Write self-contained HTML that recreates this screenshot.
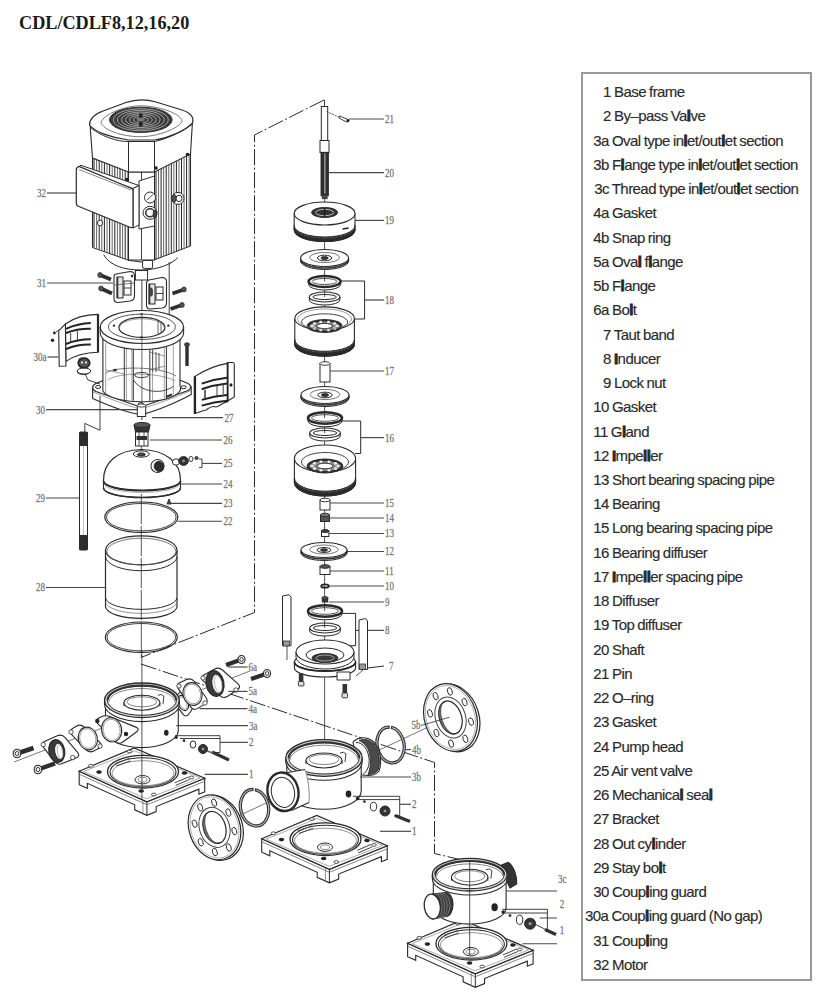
<!DOCTYPE html>
<html><head><meta charset="utf-8">
<style>
html,body{margin:0;padding:0;background:#fff;}
body{width:834px;height:1000px;position:relative;overflow:hidden;}
#title{position:absolute;left:19px;top:9.5px;font:bold 18.2px "Liberation Serif",serif;color:#1a1a1a;white-space:nowrap;line-height:26px;}
#legend{position:absolute;left:580.5px;top:71.5px;width:231px;height:909.5px;border:2px solid #999;box-sizing:border-box;}
.li{position:absolute;font:15px "Liberation Sans",sans-serif;color:#2a2a2a;white-space:nowrap;letter-spacing:-0.56px;word-spacing:-0.5px;line-height:18px;-webkit-text-stroke:0.15px #2a2a2a;}
.li b{font-weight:bold;-webkit-text-stroke:0.8px #222;}
svg{position:absolute;left:0;top:0;}
.lb{font:11.5px "Liberation Serif",serif;fill:#606060;stroke:#909090;stroke-width:0.25px;}
</style></head>
<body>
<div id="title">CDL/CDLF8,12,16,20</div>
<svg id="dg" width="834" height="1000" viewBox="0 0 834 1000">
<polyline points="324,100 254.5,135 254.5,612.5 141,657.5" stroke="#2a2a2a" stroke-width="1.0" fill="none" stroke-dasharray="16 2.5 2 2.5"/>
<polyline points="141,664 434.5,762.5 434.5,853.5 470,862" stroke="#2a2a2a" stroke-width="1.0" fill="none" stroke-dasharray="16 2.5 2 2.5"/>
<line x1="94.0" y1="158" x2="94.0" y2="247.60963172804531" stroke="#222" stroke-width="1.0"/>
<line x1="96.6" y1="158" x2="96.6" y2="248.55977337110482" stroke="#666" stroke-width="1.0"/>
<line x1="99.2" y1="158" x2="99.2" y2="249.5099150141643" stroke="#222" stroke-width="1.0"/>
<line x1="101.8" y1="158" x2="101.8" y2="250.4600566572238" stroke="#666" stroke-width="1.0"/>
<line x1="104.4" y1="158" x2="104.4" y2="251.41019830028327" stroke="#222" stroke-width="1.0"/>
<line x1="107.0" y1="158" x2="107.0" y2="252.36033994334278" stroke="#666" stroke-width="1.0"/>
<line x1="109.6" y1="158" x2="109.6" y2="253.31048158640226" stroke="#222" stroke-width="1.0"/>
<line x1="112.2" y1="158" x2="112.2" y2="254.26062322946174" stroke="#666" stroke-width="1.0"/>
<line x1="114.8" y1="158" x2="114.8" y2="255.21076487252122" stroke="#222" stroke-width="1.0"/>
<line x1="117.4" y1="158" x2="117.4" y2="256.16090651558073" stroke="#666" stroke-width="1.0"/>
<line x1="120.0" y1="158" x2="120.0" y2="257.1110481586402" stroke="#222" stroke-width="1.0"/>
<line x1="122.6" y1="158" x2="122.6" y2="258.0611898016997" stroke="#666" stroke-width="1.0"/>
<line x1="125.2" y1="158" x2="125.2" y2="259.0113314447592" stroke="#222" stroke-width="1.0"/>
<line x1="127.80000000000001" y1="158" x2="127.80000000000001" y2="259.96147308781866" stroke="#666" stroke-width="1.0"/>
<line x1="156.0" y1="153" x2="156.0" y2="259.2248554913295" stroke="#222" stroke-width="1.0"/>
<line x1="158.55" y1="153" x2="158.55" y2="258.2151734104046" stroke="#666" stroke-width="1.0"/>
<line x1="161.1" y1="153" x2="161.1" y2="257.20549132947974" stroke="#222" stroke-width="1.0"/>
<line x1="163.65" y1="153" x2="163.65" y2="256.1958092485549" stroke="#666" stroke-width="1.0"/>
<line x1="166.2" y1="153" x2="166.2" y2="255.18612716763005" stroke="#222" stroke-width="1.0"/>
<line x1="168.75" y1="153" x2="168.75" y2="254.1764450867052" stroke="#666" stroke-width="1.0"/>
<line x1="171.3" y1="153" x2="171.3" y2="253.16676300578035" stroke="#222" stroke-width="1.0"/>
<line x1="173.85" y1="153" x2="173.85" y2="252.15708092485548" stroke="#666" stroke-width="1.0"/>
<line x1="176.4" y1="153" x2="176.4" y2="251.14739884393063" stroke="#222" stroke-width="1.0"/>
<line x1="178.95" y1="153" x2="178.95" y2="250.13771676300578" stroke="#666" stroke-width="1.0"/>
<line x1="181.5" y1="153" x2="181.5" y2="249.12803468208094" stroke="#222" stroke-width="1.0"/>
<line x1="184.05" y1="153" x2="184.05" y2="248.11835260115606" stroke="#666" stroke-width="1.0"/>
<line x1="186.6" y1="153" x2="186.6" y2="247.10867052023121" stroke="#222" stroke-width="1.0"/>
<line x1="189.15" y1="153" x2="189.15" y2="246.09898843930637" stroke="#666" stroke-width="1.0"/>
<line x1="92.5" y1="158" x2="92.5" y2="247.5" stroke="#2a2a2a" stroke-width="1.1"/>
<line x1="190.5" y1="152" x2="190.5" y2="246" stroke="#2a2a2a" stroke-width="1.1"/>
<polyline points="92.5,247.5 129,260.4 141,262 154.8,259.7 190.5,246" stroke="#2a2a2a" stroke-width="1.0" fill="none"/>
<rect x="128.5" y="172" width="26" height="88" rx="0" stroke="#2a2a2a" stroke-width="1.0" fill="#fff"/>
<line x1="141.5" y1="172" x2="141.5" y2="260" stroke="#2a2a2a" stroke-width="0.9"/>
<path d="M103.7,254.7 C110,266 125,270 140.4,270 C158,270 172,264 177.8,257.6" stroke="#2a2a2a" stroke-width="1.0" fill="none" />
<rect x="142.6" y="260.4" width="10" height="8" rx="1.5" stroke="#2a2a2a" stroke-width="1.0" fill="#fff"/>
<rect x="135.4" y="270.5" width="12.2" height="9.5" rx="0" stroke="#2a2a2a" stroke-width="1.0" fill="#fff"/>
<path d="M90,124 L92.5,158 L128.5,172 L154.5,172 L190.5,154 L192.5,121 Z" stroke="#2a2a2a" stroke-width="1.1" fill="#fff" />
<line x1="128.5" y1="141" x2="128.5" y2="172" stroke="#2a2a2a" stroke-width="1.0"/>
<line x1="154.5" y1="141" x2="154.5" y2="172" stroke="#2a2a2a" stroke-width="1.0"/>
<path d="M90,127 C100,136 118,142 128.5,141.5 L154.5,141.5 C168,139 184,130 192.5,124" stroke="#2a2a2a" stroke-width="1.0" fill="none" />
<path d="M89.5,125 C89.5,118 95,114 103,111 L126,102.5 C136,99 146,99 156,102 L182,110 C191,113 194,118 192.5,123 C186,130 170,138 154.5,140 L128.5,140 C112,138 95,132 89.5,125 Z" stroke="#2a2a2a" stroke-width="1.2" fill="#fff" />
<path d="M100.9,122.3 C104,114 125,105.8 140.4,105.8 C158,105.8 180,113 182.2,120.9 C180,128 158,136.7 140.4,136.7 C122,136.7 103,130 100.9,122.3 Z" stroke="#555" stroke-width="0.8" fill="none" />
<ellipse cx="140.8" cy="119.8" rx="31.3" ry="12.6" stroke="#2a2a2a" stroke-width="1.0" fill="#3a3a3a"/>
<ellipse cx="140.8" cy="119.8" rx="27.5" ry="11" stroke="#bdbdbd" stroke-width="0.8" fill="none"/>
<ellipse cx="140.8" cy="119.8" rx="23.5" ry="9.4" stroke="#bdbdbd" stroke-width="0.8" fill="none"/>
<ellipse cx="140.8" cy="119.8" rx="19.5" ry="7.8" stroke="#bdbdbd" stroke-width="0.8" fill="none"/>
<ellipse cx="140.8" cy="119.8" rx="15.5" ry="6.2" stroke="#bdbdbd" stroke-width="0.8" fill="none"/>
<ellipse cx="140.8" cy="119.8" rx="11.5" ry="4.6" stroke="#bdbdbd" stroke-width="0.8" fill="none"/>
<ellipse cx="140.8" cy="119.8" rx="7.5" ry="3" stroke="#bdbdbd" stroke-width="0.8" fill="none"/>
<rect x="139" y="113.5" width="3.6" height="13" rx="0" stroke="none" stroke-width="0" fill="#222"/>
<ellipse cx="140.8" cy="119.5" rx="4" ry="2" stroke="none" stroke-width="0" fill="#777"/>
<ellipse cx="187.5" cy="154.5" rx="1.8" ry="1.8" stroke="none" stroke-width="0" fill="#222"/>
<ellipse cx="156" cy="168" rx="1.8" ry="1.8" stroke="none" stroke-width="0" fill="#222"/>
<ellipse cx="127" cy="179.5" rx="1.8" ry="1.8" stroke="none" stroke-width="0" fill="#222"/>
<path d="M139,181 L154.5,176 L154.5,226 L139,229 Z" stroke="#2a2a2a" stroke-width="1.0" fill="#fff" />
<path d="M77,168 L81,165.3 L139,185.5 L133,188.5 Z" stroke="#2a2a2a" stroke-width="1.0" fill="#fff" />
<path d="M133,188.5 L139,185.5 L139,225 L133,228 Z" stroke="#2a2a2a" stroke-width="1.0" fill="#fff" />
<path d="M79,166.5 C77,167 76.3,168 76.3,170 L76.3,203 C76.3,205 77,206 79,206.5 L130.5,227.5 C132.5,228 133,227.5 133,226 L133,191 C133,189.5 132.5,188.5 130.5,188 Z" stroke="#2a2a2a" stroke-width="1.2" fill="#fff" />
<line x1="79" y1="169.5" x2="131" y2="190" stroke="#666" stroke-width="0.8"/>
<ellipse cx="150" cy="197.5" rx="5.5" ry="5.5" stroke="#2a2a2a" stroke-width="1.0" fill="#fff"/>
<line x1="147" y1="200" x2="153" y2="194.5" stroke="#2a2a2a" stroke-width="0.8"/>
<ellipse cx="150" cy="212.8" rx="7" ry="6.5" stroke="#2a2a2a" stroke-width="1.0" fill="#fff"/>
<ellipse cx="150" cy="212.8" rx="4.3" ry="4" stroke="#333" stroke-width="1.6" fill="none"/>
<ellipse cx="155" cy="214" rx="1.8" ry="4" stroke="#2a2a2a" stroke-width="1.0" fill="#444"/>
<ellipse cx="178" cy="198.4" rx="6" ry="6" stroke="#2a2a2a" stroke-width="1.0" fill="#fff"/>
<ellipse cx="179" cy="198.4" rx="3" ry="3.2" stroke="#2a2a2a" stroke-width="1.0" fill="none"/>
<ellipse cx="174" cy="198.4" rx="2" ry="4" stroke="#2a2a2a" stroke-width="0.9" fill="#555"/>
<ellipse cx="100" cy="223" rx="2.5" ry="3" stroke="#2a2a2a" stroke-width="1.0" fill="#fff"/>
<line x1="47" y1="193" x2="76" y2="193" stroke="#4a4a4a" stroke-width="1.2"/>
<text x="46" y="197" class="lb" text-anchor="end" transform="translate(46 197) scale(0.78 1) translate(-46 -197)">32</text>
<line x1="141.9" y1="280" x2="141.9" y2="420" stroke="#2a2a2a" stroke-width="0.9"/>
<line x1="169.2" y1="262" x2="169.2" y2="322" stroke="#2a2a2a" stroke-width="0.9"/>
<path d="M116,274 L130,271.5 C133,271.5 134.5,273 134.5,276 L134.5,296 C134.5,299 133,300.5 130,301 L118,302.5 C115.5,302.5 114,301 114,298.5 L114,277 C114,275.5 114.8,274.2 116,274 Z" stroke="#2a2a2a" stroke-width="1.1" fill="#fff" />
<rect x="117" y="277" width="6" height="21" rx="0" stroke="#2a2a2a" stroke-width="1.0" fill="#e8e8e8"/>
<line x1="117.5" y1="277" x2="117.5" y2="298" stroke="#333" stroke-width="1.6"/>
<rect x="124" y="281" width="7" height="14" rx="0" stroke="#2a2a2a" stroke-width="1.0" fill="#fff"/>
<line x1="124" y1="288" x2="131" y2="288" stroke="#2a2a2a" stroke-width="0.9"/>
<line x1="114.5" y1="285" x2="134" y2="283" stroke="#555" stroke-width="0.8"/>
<ellipse cx="132" cy="276" rx="1.2" ry="1.2" stroke="none" stroke-width="0" fill="#222"/>
<path d="M149,280 L162,277.5 C165,277.5 166.5,279 166.5,282 L166.5,303 C166.5,306 165,307.5 162,308 L150,309 C147.5,309 146.5,307.5 146.5,305 L146.5,283 C146.5,281.5 147.5,280.3 149,280 Z" stroke="#2a2a2a" stroke-width="1.1" fill="#fff" />
<rect x="149" y="284" width="6" height="20" rx="0" stroke="#2a2a2a" stroke-width="1.0" fill="#e8e8e8"/>
<line x1="149.5" y1="284" x2="149.5" y2="304" stroke="#333" stroke-width="1.6"/>
<rect x="156" y="287" width="7" height="13" rx="0" stroke="#2a2a2a" stroke-width="1.0" fill="#fff"/>
<line x1="156" y1="293.5" x2="163" y2="293.5" stroke="#2a2a2a" stroke-width="0.9"/>
<ellipse cx="151" cy="292" rx="2" ry="4.5" stroke="none" stroke-width="0" fill="#444"/>
<line x1="100" y1="275" x2="111" y2="279.5" stroke="#2e2e2e" stroke-width="3.8"/>
<ellipse cx="100" cy="275" rx="2.28" ry="2.4699999999999998" stroke="#2a2a2a" stroke-width="0.8" fill="#555"/>
<line x1="101" y1="288.5" x2="112" y2="293.5" stroke="#2e2e2e" stroke-width="3.8"/>
<ellipse cx="101" cy="288.5" rx="2.28" ry="2.4699999999999998" stroke="#2a2a2a" stroke-width="0.8" fill="#555"/>
<line x1="184" y1="289.5" x2="172.5" y2="293.5" stroke="#2e2e2e" stroke-width="3.8"/>
<ellipse cx="184" cy="289.5" rx="2.28" ry="2.4699999999999998" stroke="#2a2a2a" stroke-width="0.8" fill="#555"/>
<line x1="182" y1="305" x2="170.5" y2="309" stroke="#2e2e2e" stroke-width="3.8"/>
<ellipse cx="182" cy="305" rx="2.28" ry="2.4699999999999998" stroke="#2a2a2a" stroke-width="0.8" fill="#555"/>
<line x1="47" y1="283" x2="113" y2="283" stroke="#4a4a4a" stroke-width="1.2"/>
<text x="46" y="287" class="lb" text-anchor="end" transform="translate(46 287) scale(0.78 1) translate(-46 -287)">31</text>
<path d="M92.6,388 L92.6,398.5 C105,404 128,413 140.2,414.5 C152,413 178,402 191.2,394.6 L191.2,386.4" stroke="#2a2a2a" stroke-width="1.1" fill="#fff" />
<path d="M96,383.5 C91.5,385.5 91.5,389.5 96,391.5 L136,405.5 C139,406.5 142,406.5 145,405.5 L187,391 C192,389 192,385 187,383 L150,368 L133,368 Z" stroke="#2a2a2a" stroke-width="1.2" fill="#fff" />
<path d="M93,392 C108,398 128,406 140.2,409 C152,406 176,397 191,390.5" stroke="#777" stroke-width="0.7" fill="none" />
<ellipse cx="98.1" cy="387" rx="2.6" ry="1.5" stroke="#2a2a2a" stroke-width="1.0" fill="#fff"/>
<ellipse cx="140.8" cy="404.2" rx="2.6" ry="1.5" stroke="#2a2a2a" stroke-width="1.0" fill="#fff"/>
<ellipse cx="183.6" cy="387.2" rx="2.6" ry="1.5" stroke="#2a2a2a" stroke-width="1.0" fill="#fff"/>
<path d="M102.9,338 L102.9,391 A38.5,13 0 0 0 180,386 L180,338 Z" stroke="#2a2a2a" stroke-width="1.1" fill="#fff" />
<path d="M106,373 C115,366 160,366 176,376" stroke="#555" stroke-width="0.8" fill="none" />
<path d="M133.5,380 C140,391 160,396 174,386" stroke="#444" stroke-width="1.0" fill="none" />
<path d="M108,380 C118,372 160,372 175,381" stroke="#777" stroke-width="0.7" fill="none" />
<ellipse cx="141.5" cy="375" rx="7" ry="2.6" stroke="#2a2a2a" stroke-width="0.9" fill="none"/>
<line x1="105.7" y1="343" x2="105.7" y2="394.1182520563948" stroke="#777" stroke-width="0.7"/>
<line x1="124.3" y1="343" x2="124.3" y2="399.85544498834867" stroke="#333" stroke-width="1.0"/>
<line x1="126.4" y1="343" x2="126.4" y2="400.13077751513794" stroke="#777" stroke-width="0.7"/>
<line x1="131.9" y1="343" x2="131.9" y2="400.65986177495864" stroke="#777" stroke-width="0.7"/>
<line x1="133.3" y1="343" x2="133.3" y2="400.7537938250951" stroke="#333" stroke-width="1.0"/>
<line x1="149.8" y1="343" x2="149.8" y2="400.73498952025574" stroke="#333" stroke-width="1.0"/>
<line x1="152.6" y1="343" x2="152.6" y2="400.5242576935383" stroke="#777" stroke-width="0.7"/>
<line x1="164.3" y1="343" x2="164.3" y2="398.8425686544218" stroke="#777" stroke-width="0.7"/>
<line x1="166.4" y1="343" x2="166.4" y2="398.3653805554042" stroke="#333" stroke-width="1.0"/>
<line x1="173.3" y1="343" x2="173.3" y2="396.1587170675691" stroke="#777" stroke-width="0.7"/>
<path d="M149.8,352 L164.3,356 M150,370 L165,366" stroke="#666" stroke-width="0.7" fill="none" />
<path d="M152.6,350 L152.6,372 M156,352 L156,372 M159,353 L159,370" stroke="#555" stroke-width="1.0" fill="none" />
<line x1="106" y1="370" x2="124" y2="374" stroke="#777" stroke-width="0.7"/>
<ellipse cx="115" cy="370" rx="2" ry="1.2" stroke="none" stroke-width="0" fill="#333"/>
<path d="M166,397 L172,394.5" stroke="#333" stroke-width="2.4" fill="none" />
<path d="M100.2,327 L100.2,333 A41.7,16.5 0 0 0 183.6,333 L183.6,327" stroke="#2a2a2a" stroke-width="1.1" fill="#fff" />
<ellipse cx="141.9" cy="327" rx="41.7" ry="16.5" stroke="#2a2a2a" stroke-width="1.2" fill="#fff"/>
<ellipse cx="141.9" cy="326.8" rx="33.5" ry="12.7" stroke="#444" stroke-width="0.9" fill="none"/>
<ellipse cx="141.9" cy="327.4" rx="23" ry="10" stroke="#2a2a2a" stroke-width="1.2" fill="#fff"/>
<path d="M119.5,328 A22.4,9.2 0 0 1 164.3,328" stroke="#777" stroke-width="0.7" fill="none" />
<path d="M158,321 L158,334 M161,322 L161,333" stroke="#666" stroke-width="1.0" fill="none" />
<ellipse cx="114" cy="325.7" rx="1.3" ry="1.1" stroke="none" stroke-width="0" fill="#333"/>
<ellipse cx="141.5" cy="337.4" rx="1.3" ry="1.1" stroke="none" stroke-width="0" fill="#333"/>
<ellipse cx="168.4" cy="325.7" rx="1.3" ry="1.1" stroke="none" stroke-width="0" fill="#333"/>
<ellipse cx="141.5" cy="314" rx="1.3" ry="1.1" stroke="none" stroke-width="0" fill="#333"/>
<line x1="141.9" y1="314" x2="141.9" y2="406" stroke="#444" stroke-width="0.8"/>
<line x1="187" y1="345" x2="187" y2="366" stroke="#2e2e2e" stroke-width="3.4"/>
<ellipse cx="187" cy="344.5" rx="2.6" ry="1.8" stroke="#2a2a2a" stroke-width="0.8" fill="#444"/>
<ellipse cx="83.5" cy="365" rx="5" ry="3" stroke="#2a2a2a" stroke-width="1.0" fill="#fff"/>
<rect x="79" y="358" width="9" height="7" rx="2" stroke="#2a2a2a" stroke-width="1.0" fill="#fff"/>
<ellipse cx="83.5" cy="372" rx="6" ry="2.5" stroke="#2a2a2a" stroke-width="1.0" fill="#fff"/>
<path d="M65.4,324 C75,317 88,314.5 98,314.4 L98,352.3 C88,352.5 75,355 65.9,361.4 Z" stroke="#2a2a2a" stroke-width="1.1" fill="#fff" />
<path d="M58.7,330.7 L65.4,324 L65.9,366 L59.2,366.2 Z" stroke="#2a2a2a" stroke-width="1.1" fill="#fff" />
<line x1="98" y1="314.4" x2="98" y2="352.3" stroke="#2a2a2a" stroke-width="2.2"/>
<path d="M66,328.8 Q78,323.4 90.8,323" stroke="#222" stroke-width="2.0" fill="none" />
<path d="M66,333 Q78,328.4 90.8,328.8" stroke="#222" stroke-width="2.0" fill="none" />
<path d="M66,344 Q78,339.15 90.8,339.3" stroke="#222" stroke-width="2.0" fill="none" />
<path d="M66,349 Q78,344.3 90.8,344.6" stroke="#222" stroke-width="2.0" fill="none" />
<line x1="70.7" y1="333" x2="70.7" y2="343" stroke="#2a2a2a" stroke-width="0.9"/>
<line x1="77.4" y1="331" x2="77.4" y2="341" stroke="#2a2a2a" stroke-width="0.9"/>
<ellipse cx="54.4" cy="333" rx="1.4" ry="1.4" stroke="none" stroke-width="0" fill="#222"/>
<ellipse cx="52.5" cy="340.3" rx="1.7" ry="1.7" stroke="none" stroke-width="0" fill="#222"/>
<line x1="56" y1="332" x2="59" y2="330" stroke="#2a2a2a" stroke-width="0.8"/>
<ellipse cx="84" cy="371" rx="6.8" ry="3" stroke="#2a2a2a" stroke-width="1.0" fill="#fff"/>
<ellipse cx="84" cy="363" rx="5.8" ry="4.8" stroke="#222" stroke-width="1.6" fill="#555"/>
<ellipse cx="82" cy="362.5" rx="1.4" ry="1.7" stroke="#2a2a2a" stroke-width="0.6" fill="#eee"/>
<ellipse cx="86" cy="362.5" rx="1.4" ry="1.7" stroke="#2a2a2a" stroke-width="0.6" fill="#eee"/>
<path d="M85,374 L88,380 L100,384" stroke="#2a2a2a" stroke-width="0.9" fill="none" />
<line x1="47.5" y1="357" x2="58.5" y2="357" stroke="#4a4a4a" stroke-width="1.2"/>
<text x="46.5" y="361" class="lb" text-anchor="end" transform="translate(46.5 361) scale(0.78 1) translate(-46.5 -361)">30a</text>
<path d="M194.9,376.4 C205,370 217,365 227.6,363.4 L227.6,401.8 C222,403 220,406 216,407 C212,405 209,408 206,410 C202,411 198,413 194.9,413.3 Z" stroke="#2a2a2a" stroke-width="1.1" fill="#fff" />
<path d="M227.6,362.5 L233,362.5 C234,362.5 234.3,363.5 234.3,364.5 L234.3,397 L227.6,401 Z" stroke="#2a2a2a" stroke-width="1.1" fill="#fff" />
<line x1="194.9" y1="376.4" x2="194.9" y2="413.8" stroke="#222" stroke-width="2.4"/>
<line x1="227.6" y1="362.5" x2="227.6" y2="401.8" stroke="#222" stroke-width="1.8"/>
<path d="M201.7,383.6 Q214,379.20000000000005 227,377.8" stroke="#222" stroke-width="2.0" fill="none" />
<path d="M201.7,389.3 Q214,384.95000000000005 227,383.6" stroke="#222" stroke-width="2.0" fill="none" />
<path d="M201.7,399.9 Q214,395.95 227,395" stroke="#222" stroke-width="2.0" fill="none" />
<path d="M201.7,405.6 Q214,401.70000000000005 227,400.8" stroke="#222" stroke-width="2.0" fill="none" />
<line x1="217" y1="386" x2="217" y2="396" stroke="#2a2a2a" stroke-width="0.9"/>
<line x1="223.2" y1="384" x2="223.2" y2="394" stroke="#2a2a2a" stroke-width="0.9"/>
<line x1="205" y1="390" x2="205" y2="400" stroke="#2a2a2a" stroke-width="1.4"/>
<ellipse cx="231" cy="385" rx="1.5" ry="1.8" stroke="none" stroke-width="0" fill="#222"/>
<line x1="46" y1="409.6" x2="138.6" y2="409.6" stroke="#444" stroke-width="1.1"/>
<text x="45" y="413.6" class="lb" text-anchor="end" transform="translate(45 413.6) scale(0.78 1) translate(-45 -413.6)">30</text>
<line x1="152" y1="417.6" x2="223" y2="417.6" stroke="#444" stroke-width="1.1"/>
<text x="224.5" y="421.6" class="lb" text-anchor="start" transform="translate(224.5 421.6) scale(0.78 1) translate(-224.5 -421.6)">27</text>
<polyline points="100,396 100,430.3 84.8,423.4 84.8,431.7" stroke="#2a2a2a" stroke-width="0.9" fill="none"/>
<rect x="137.3" y="405.5" width="8.4" height="11" rx="0" stroke="#2a2a2a" stroke-width="1.0" fill="#fff"/>
<ellipse cx="141.5" cy="405.5" rx="4.2" ry="1.6" stroke="#2a2a2a" stroke-width="0.9" fill="#fff"/>
<path d="M134,425 L150,425 L148.5,432 L135.5,432 Z" stroke="#2a2a2a" stroke-width="1.0" fill="#333" />
<ellipse cx="142" cy="425" rx="8" ry="2.5" stroke="#2a2a2a" stroke-width="1.0" fill="#555"/>
<rect x="135.5" y="432" width="12.5" height="14" rx="0" stroke="#2a2a2a" stroke-width="1.0" fill="#fff"/>
<rect x="136.5" y="436" width="10.5" height="4" rx="0" stroke="none" stroke-width="0" fill="#333"/>
<line x1="139" y1="432" x2="139" y2="446" stroke="#2a2a2a" stroke-width="0.8"/>
<line x1="144" y1="432" x2="144" y2="446" stroke="#2a2a2a" stroke-width="0.8"/>
<line x1="150" y1="440" x2="222" y2="440" stroke="#444" stroke-width="1.1"/>
<text x="223.5" y="444" class="lb" text-anchor="start" transform="translate(223.5 444) scale(0.78 1) translate(-223.5 -444)">26</text>
<rect x="79.5" y="432" width="8" height="118" rx="1" stroke="#2a2a2a" stroke-width="1.0" fill="#fff"/>
<rect x="79.5" y="432" width="8" height="14" rx="0" stroke="none" stroke-width="0" fill="#2e2e2e"/>
<rect x="79.5" y="535" width="8" height="15" rx="0" stroke="none" stroke-width="0" fill="#2e2e2e"/>
<line x1="83.5" y1="446" x2="83.5" y2="535" stroke="#999" stroke-width="0.6"/>
<line x1="46" y1="498" x2="79" y2="498" stroke="#444" stroke-width="1.1"/>
<text x="45" y="502" class="lb" text-anchor="end" transform="translate(45 502) scale(0.78 1) translate(-45 -502)">29</text>
<path d="M103.5,481 L103.5,488 A38.3,9.5 0 0 0 180.5,488 L180.5,481 Z" stroke="#2a2a2a" stroke-width="1.1" fill="#fff" />
<path d="M103.5,481 C103,462 118,450 141.3,449.5 C165,450 181,462 180.5,481 A38.5,9.5 0 0 1 103.5,481 Z" stroke="#2a2a2a" stroke-width="1.2" fill="#fff" />
<path d="M103.5,481 A38.5,9.5 0 0 0 180.5,481" stroke="#2a2a2a" stroke-width="2.0" fill="none" />
<path d="M103.5,488 A38.5,9.5 0 0 0 180.5,488" stroke="#2a2a2a" stroke-width="1.5" fill="none" />
<path d="M104,484.5 A38.5,9.5 0 0 0 180,484.5" stroke="#888" stroke-width="0.7" fill="none" />
<ellipse cx="141.3" cy="454" rx="8" ry="3.2" stroke="#2a2a2a" stroke-width="1.0" fill="#fff"/>
<ellipse cx="141.3" cy="454.5" rx="4" ry="1.6" stroke="#2a2a2a" stroke-width="1.0" fill="#444"/>
<ellipse cx="157.5" cy="466" rx="6.5" ry="6.5" stroke="#2a2a2a" stroke-width="1.0" fill="#fff" transform="rotate(-20 157.5 466)"/>
<ellipse cx="159" cy="466.5" rx="4.8" ry="5.2" stroke="#2a2a2a" stroke-width="0.8" fill="#2c2c2c" transform="rotate(-20 159 466.5)"/>
<ellipse cx="176" cy="462" rx="3.6" ry="3.2" stroke="#2a2a2a" stroke-width="1.0" fill="#fff"/>
<ellipse cx="183.5" cy="461" rx="4.8" ry="4.4" stroke="#2a2a2a" stroke-width="1.0" fill="#333"/>
<ellipse cx="183.5" cy="461" rx="2" ry="2" stroke="#2a2a2a" stroke-width="0.8" fill="#888"/>
<ellipse cx="191" cy="459" rx="2" ry="2.6" stroke="#2a2a2a" stroke-width="0.9" fill="#fff"/>
<ellipse cx="196.5" cy="458" rx="1.6" ry="1.6" stroke="#2a2a2a" stroke-width="0.9" fill="#555"/>
<polyline points="199,459 202,459 202,467.6 199,467.6" stroke="#2a2a2a" stroke-width="0.9" fill="none"/>
<line x1="202" y1="463.4" x2="222" y2="463.4" stroke="#444" stroke-width="1.1"/>
<text x="223.5" y="467.4" class="lb" text-anchor="start" transform="translate(223.5 467.4) scale(0.78 1) translate(-223.5 -467.4)">25</text>
<line x1="180" y1="484" x2="222" y2="484" stroke="#444" stroke-width="1.1"/>
<text x="223.5" y="488" class="lb" text-anchor="start" transform="translate(223.5 488) scale(0.78 1) translate(-223.5 -488)">24</text>
<path d="M169,499 L171,504 L167,504 Z" stroke="#2a2a2a" stroke-width="0.9" fill="#444" />
<line x1="171" y1="503.4" x2="222" y2="503.4" stroke="#444" stroke-width="1.1"/>
<text x="223.5" y="507.4" class="lb" text-anchor="start" transform="translate(223.5 507.4) scale(0.78 1) translate(-223.5 -507.4)">23</text>
<ellipse cx="141.3" cy="517.2" rx="36.5" ry="15.2" stroke="#2a2a2a" stroke-width="1.2" fill="none"/>
<ellipse cx="141.3" cy="517.2" rx="34.8" ry="13.7" stroke="#2a2a2a" stroke-width="0.9" fill="none"/>
<line x1="177.5" y1="521.3" x2="222" y2="521.3" stroke="#444" stroke-width="1.1"/>
<text x="223.5" y="525.3" class="lb" text-anchor="start" transform="translate(223.5 525.3) scale(0.78 1) translate(-223.5 -525.3)">22</text>
<path d="M105.5,550 L105.5,607 A35.8,12 0 0 0 177,607 L177,550" stroke="#2a2a2a" stroke-width="1.2" fill="#fff" />
<path d="M105.5,598 A35.8,12 0 0 0 177,598" stroke="#2a2a2a" stroke-width="1.0" fill="none" />
<path d="M105.5,602 A35.8,12 0 0 0 177,602" stroke="#777" stroke-width="0.8" fill="none" />
<ellipse cx="141.3" cy="550.3" rx="35.8" ry="14.5" stroke="#2a2a2a" stroke-width="1.2" fill="#fff"/>
<ellipse cx="141.3" cy="551.5" rx="34.5" ry="13.3" stroke="#555" stroke-width="0.8" fill="none"/>
<path d="M105.5,557 A35.8,14.5 0 0 0 177,557" stroke="#2a2a2a" stroke-width="1.0" fill="none" />
<line x1="46" y1="587.5" x2="105.5" y2="587.5" stroke="#444" stroke-width="1.1"/>
<text x="45" y="591.5" class="lb" text-anchor="end" transform="translate(45 591.5) scale(0.78 1) translate(-45 -591.5)">28</text>
<ellipse cx="141.3" cy="637.2" rx="36" ry="15.2" stroke="#2a2a2a" stroke-width="1.2" fill="none"/>
<ellipse cx="141.3" cy="637.2" rx="34.3" ry="13.7" stroke="#2a2a2a" stroke-width="0.9" fill="none"/>
<line x1="141.3" y1="446" x2="141.3" y2="451" stroke="#2a2a2a" stroke-width="0.8"/>
<line x1="141.3" y1="494" x2="141.3" y2="658" stroke="#2a2a2a" stroke-width="0.8" stroke-dasharray="30 2"/>
<line x1="324.6" y1="196" x2="324.6" y2="745" stroke="#2a2a2a" stroke-width="0.8"/>
<rect x="321.3" y="106.5" width="6.4" height="34" rx="0" stroke="#2a2a2a" stroke-width="1.0" fill="#fff"/>
<line x1="324.5" y1="100" x2="324.5" y2="106.5" stroke="#2a2a2a" stroke-width="0.9"/>
<rect x="320" y="140.5" width="9" height="12" rx="0" stroke="#2a2a2a" stroke-width="1.0" fill="#fff"/>
<rect x="321" y="152.3" width="7.4" height="43.5" rx="0" stroke="#2a2a2a" stroke-width="0.9" fill="#2e2e2e"/>
<line x1="324.9" y1="153.5" x2="324.9" y2="193.5" stroke="#bbb" stroke-width="1.1"/>
<rect x="321.8" y="195.3" width="5.8" height="3.8" rx="0" stroke="none" stroke-width="0" fill="#333"/>
<line x1="321.8" y1="196.2" x2="327.6" y2="196.2" stroke="#888" stroke-width="0.4"/>
<line x1="321.8" y1="197.8" x2="327.6" y2="197.8" stroke="#888" stroke-width="0.4"/>
<path d="M339.5,116 L348,119.5 L348.7,121.5 L346.5,122 L339,118 Z" stroke="#2a2a2a" stroke-width="0.9" fill="#fff" />
<ellipse cx="348" cy="120.6" rx="1.5" ry="1.5" stroke="none" stroke-width="0" fill="#222"/>
<line x1="326.6" y1="111.6" x2="340" y2="117.5" stroke="#444" stroke-width="0.9" stroke-dasharray="2 1"/>
<line x1="348.7" y1="119" x2="384" y2="119" stroke="#4a4a4a" stroke-width="1.2"/>
<text x="385" y="123" class="lb" text-anchor="start" transform="translate(385 123) scale(0.78 1) translate(-385 -123)">21</text>
<line x1="328.4" y1="172.6" x2="384" y2="172.6" stroke="#4a4a4a" stroke-width="1.2"/>
<text x="385" y="176.6" class="lb" text-anchor="start" transform="translate(385 176.6) scale(0.78 1) translate(-385 -176.6)">20</text>
<path d="M294.20000000000005,213.5 L294.20000000000005,230.0 A30.4,11.5 0 0 0 355.0,230.0 L355.0,213.5" stroke="#2a2a2a" stroke-width="1.1" fill="#fff" />
<path d="M294.20000000000005,225.5 A30.4,11.5 0 0 0 355.0,225.5 L355.0,230.0 A30.4,11.5 0 0 1 294.20000000000005,230.0 Z" stroke="#2a2a2a" stroke-width="1.0" fill="#2a2a2a" />
<path d="M295.20000000000005,227.5 A29.4,10.5 0 0 0 354.0,227.5" stroke="#aaa" stroke-width="0.6" fill="none" stroke-dasharray="1 1.5"/>
<ellipse cx="324.6" cy="213.5" rx="30.4" ry="11.5" stroke="#2a2a2a" stroke-width="1.1" fill="#fff"/>
<ellipse cx="324.6" cy="212.5" rx="13" ry="5" stroke="#2a2a2a" stroke-width="1.0" fill="#333"/>
<ellipse cx="324.6" cy="212.5" rx="9" ry="3.2" stroke="#ddd" stroke-width="0.8" fill="none"/>
<line x1="324.6" y1="208" x2="324.6" y2="217" stroke="#222" stroke-width="1.5"/>
<path d="M342.6,229 l6,-1" stroke="#222" stroke-width="1.3" fill="none" />
<line x1="355" y1="220.4" x2="384" y2="220.4" stroke="#4a4a4a" stroke-width="1.2"/>
<text x="385" y="224.4" class="lb" text-anchor="start" transform="translate(385 224.4) scale(0.78 1) translate(-385 -224.4)">19</text>
<path d="M300.6,258 L300.6,261 A24,8.5 0 0 0 348.6,261 L348.6,258" stroke="#2a2a2a" stroke-width="1.0" fill="#fff" />
<path d="M300.6,259.5 A24,8.5 0 0 0 348.6,259.5" stroke="#333" stroke-width="1.6" fill="none" />
<ellipse cx="324.6" cy="258" rx="24" ry="8.5" stroke="#2a2a2a" stroke-width="1.1" fill="#fff"/>
<ellipse cx="324.6" cy="257.5" rx="14.879999999999999" ry="5.1" stroke="#555" stroke-width="0.8" fill="none"/>
<ellipse cx="324.6" cy="258" rx="7.199999999999999" ry="2.805" stroke="#2a2a2a" stroke-width="1.0" fill="#fff"/>
<ellipse cx="324.6" cy="258" rx="3.5999999999999996" ry="1.53" stroke="#2a2a2a" stroke-width="0.8" fill="#333"/>
<path d="M308.6,281.5 L308.6,284.5 A16,5.5 0 0 0 340.6,284.5 L340.6,281.5" stroke="#2a2a2a" stroke-width="1.0" fill="#fff" />
<ellipse cx="324.6" cy="281.5" rx="16" ry="5.5" stroke="#2a2a2a" stroke-width="2.6" fill="none"/>
<ellipse cx="324.6" cy="281.5" rx="12.5" ry="3.0" stroke="#2a2a2a" stroke-width="0.8" fill="none"/>
<path d="M309.3,297 L309.3,300 A15.3,5 0 0 0 339.90000000000003,300 L339.90000000000003,297" stroke="#2a2a2a" stroke-width="1.0" fill="#fff" />
<ellipse cx="324.6" cy="297" rx="15.3" ry="5" stroke="#2a2a2a" stroke-width="1.1" fill="none"/>
<ellipse cx="324.6" cy="297" rx="11.8" ry="2.5" stroke="#2a2a2a" stroke-width="1.0" fill="none"/>
<polyline points="341,281 364.6,281 364.6,319 354.5,319" stroke="#2a2a2a" stroke-width="1.0" fill="none"/>
<line x1="364.6" y1="300" x2="384" y2="300" stroke="#4a4a4a" stroke-width="1.2"/>
<text x="385" y="304" class="lb" text-anchor="start" transform="translate(385 304) scale(0.78 1) translate(-385 -304)">18</text>
<path d="M294.8,318.5 L294.8,344.5 A29.8,11.6 0 0 0 354.40000000000003,344.5 L354.40000000000003,318.5" stroke="#2a2a2a" stroke-width="1.1" fill="#fff" />
<path d="M294.8,339.7 A29.8,11.6 0 0 0 354.40000000000003,339.7 L354.40000000000003,344.5 A29.8,11.6 0 0 1 294.8,344.5 Z" stroke="#2a2a2a" stroke-width="1.0" fill="#2a2a2a" />
<path d="M295.8,341.7 A28.8,10.6 0 0 0 353.40000000000003,341.7" stroke="#aaa" stroke-width="0.6" fill="none" stroke-dasharray="1 1.5"/>
<ellipse cx="324.6" cy="318.5" rx="29.8" ry="11.6" stroke="#2a2a2a" stroke-width="1.1" fill="#fff"/>
<ellipse cx="324.6" cy="322" rx="23" ry="8.2" stroke="#444" stroke-width="1.0" fill="none"/>
<ellipse cx="324.6" cy="326" rx="16.5" ry="5.8" stroke="#2e2e2e" stroke-width="2.6" fill="#8a8a8a"/>
<ellipse cx="337.1" cy="326.0" rx="1.6" ry="1.3" stroke="none" stroke-width="0" fill="#eee"/>
<ellipse cx="334.71271242968686" cy="328.46869805962837" rx="1.6" ry="1.3" stroke="none" stroke-width="0" fill="#eee"/>
<ellipse cx="328.46271242968686" cy="329.99443736843966" rx="1.6" ry="1.3" stroke="none" stroke-width="0" fill="#eee"/>
<ellipse cx="320.7372875703132" cy="329.99443736843966" rx="1.6" ry="1.3" stroke="none" stroke-width="0" fill="#eee"/>
<ellipse cx="314.4872875703132" cy="328.46869805962837" rx="1.6" ry="1.3" stroke="none" stroke-width="0" fill="#eee"/>
<ellipse cx="312.1" cy="326.0" rx="1.6" ry="1.3" stroke="none" stroke-width="0" fill="#eee"/>
<ellipse cx="314.4872875703132" cy="323.53130194037163" rx="1.6" ry="1.3" stroke="none" stroke-width="0" fill="#eee"/>
<ellipse cx="320.7372875703132" cy="322.00556263156034" rx="1.6" ry="1.3" stroke="none" stroke-width="0" fill="#eee"/>
<ellipse cx="328.46271242968686" cy="322.00556263156034" rx="1.6" ry="1.3" stroke="none" stroke-width="0" fill="#eee"/>
<ellipse cx="334.71271242968686" cy="323.53130194037163" rx="1.6" ry="1.3" stroke="none" stroke-width="0" fill="#eee"/>
<ellipse cx="324.6" cy="326" rx="8" ry="2.6" stroke="#2a2a2a" stroke-width="0.9" fill="#fff"/>
<ellipse cx="324.6" cy="319" rx="27" ry="10" stroke="#777" stroke-width="0.7" fill="none"/>
<rect x="320" y="363.5" width="10" height="18.5" rx="0" stroke="#2a2a2a" stroke-width="1.0" fill="#fff"/>
<ellipse cx="325" cy="363.5" rx="5" ry="1.8" stroke="#2a2a2a" stroke-width="0.9" fill="#fff"/>
<line x1="330" y1="371" x2="384" y2="371" stroke="#4a4a4a" stroke-width="1.2"/>
<text x="385" y="375" class="lb" text-anchor="start" transform="translate(385 375) scale(0.78 1) translate(-385 -375)">17</text>
<path d="M301,395 L301,398 A24,8.5 0 0 0 349,398 L349,395" stroke="#2a2a2a" stroke-width="1.0" fill="#fff" />
<path d="M301,396.5 A24,8.5 0 0 0 349,396.5" stroke="#333" stroke-width="1.6" fill="none" />
<ellipse cx="325" cy="395" rx="24" ry="8.5" stroke="#2a2a2a" stroke-width="1.1" fill="#fff"/>
<ellipse cx="325" cy="394.5" rx="14.879999999999999" ry="5.1" stroke="#555" stroke-width="0.8" fill="none"/>
<ellipse cx="325" cy="395" rx="7.199999999999999" ry="2.805" stroke="#2a2a2a" stroke-width="1.0" fill="#fff"/>
<ellipse cx="325" cy="395" rx="3.5999999999999996" ry="1.53" stroke="#2a2a2a" stroke-width="0.8" fill="#333"/>
<path d="M308,418 L308,421 A17,5.8 0 0 0 342,421 L342,418" stroke="#2a2a2a" stroke-width="1.0" fill="#fff" />
<ellipse cx="325" cy="418" rx="17" ry="5.8" stroke="#2a2a2a" stroke-width="2.6" fill="none"/>
<ellipse cx="325" cy="418" rx="13.5" ry="3.3" stroke="#2a2a2a" stroke-width="0.8" fill="none"/>
<path d="M309.7,433 L309.7,436 A15.3,5 0 0 0 340.3,436 L340.3,433" stroke="#2a2a2a" stroke-width="1.0" fill="#fff" />
<ellipse cx="325" cy="433" rx="15.3" ry="5" stroke="#2a2a2a" stroke-width="1.1" fill="none"/>
<ellipse cx="325" cy="433" rx="11.8" ry="2.5" stroke="#2a2a2a" stroke-width="1.0" fill="none"/>
<polyline points="342,421 360.7,421 360.7,453.5 355,453.5" stroke="#2a2a2a" stroke-width="1.0" fill="none"/>
<line x1="360.7" y1="437.6" x2="384" y2="437.6" stroke="#4a4a4a" stroke-width="1.2"/>
<text x="385" y="441.6" class="lb" text-anchor="start" transform="translate(385 441.6) scale(0.78 1) translate(-385 -441.6)">16</text>
<path d="M294.4,458.5 L294.4,482.5 A30.6,13.5 0 0 0 355.6,482.5 L355.6,458.5" stroke="#2a2a2a" stroke-width="1.1" fill="#fff" />
<path d="M294.4,477.7 A30.6,13.5 0 0 0 355.6,477.7 L355.6,482.5 A30.6,13.5 0 0 1 294.4,482.5 Z" stroke="#2a2a2a" stroke-width="1.0" fill="#2a2a2a" />
<path d="M295.4,479.7 A29.6,12.5 0 0 0 354.6,479.7" stroke="#aaa" stroke-width="0.6" fill="none" stroke-dasharray="1 1.5"/>
<ellipse cx="325" cy="458.5" rx="30.6" ry="13.5" stroke="#2a2a2a" stroke-width="1.1" fill="#fff"/>
<ellipse cx="325" cy="462" rx="23.5" ry="9.5" stroke="#444" stroke-width="1.0" fill="none"/>
<ellipse cx="325" cy="466" rx="17" ry="6.2" stroke="#2e2e2e" stroke-width="2.6" fill="#8a8a8a"/>
<ellipse cx="338.0" cy="466.0" rx="1.6" ry="1.3" stroke="none" stroke-width="0" fill="#eee"/>
<ellipse cx="335.5172209268743" cy="468.6450336353161" rx="1.6" ry="1.3" stroke="none" stroke-width="0" fill="#eee"/>
<ellipse cx="329.0172209268743" cy="470.2797543233282" rx="1.6" ry="1.3" stroke="none" stroke-width="0" fill="#eee"/>
<ellipse cx="320.9827790731257" cy="470.2797543233282" rx="1.6" ry="1.3" stroke="none" stroke-width="0" fill="#eee"/>
<ellipse cx="314.4827790731257" cy="468.6450336353161" rx="1.6" ry="1.3" stroke="none" stroke-width="0" fill="#eee"/>
<ellipse cx="312.0" cy="466.0" rx="1.6" ry="1.3" stroke="none" stroke-width="0" fill="#eee"/>
<ellipse cx="314.4827790731257" cy="463.3549663646839" rx="1.6" ry="1.3" stroke="none" stroke-width="0" fill="#eee"/>
<ellipse cx="320.9827790731257" cy="461.7202456766718" rx="1.6" ry="1.3" stroke="none" stroke-width="0" fill="#eee"/>
<ellipse cx="329.0172209268743" cy="461.7202456766718" rx="1.6" ry="1.3" stroke="none" stroke-width="0" fill="#eee"/>
<ellipse cx="335.5172209268743" cy="463.3549663646839" rx="1.6" ry="1.3" stroke="none" stroke-width="0" fill="#eee"/>
<ellipse cx="325" cy="466" rx="8" ry="2.8" stroke="#2a2a2a" stroke-width="0.9" fill="#fff"/>
<rect x="320" y="500" width="10" height="10" rx="0" stroke="#2a2a2a" stroke-width="1.0" fill="#fff"/>
<ellipse cx="325" cy="500" rx="5" ry="1.8" stroke="#2a2a2a" stroke-width="0.9" fill="#fff"/>
<line x1="330" y1="503" x2="384" y2="503" stroke="#4a4a4a" stroke-width="1.2"/>
<text x="385" y="507" class="lb" text-anchor="start" transform="translate(385 507) scale(0.78 1) translate(-385 -507)">15</text>
<rect x="320.5" y="515" width="9" height="6.5" rx="0" stroke="#2a2a2a" stroke-width="1.0" fill="#555"/>
<ellipse cx="325" cy="515" rx="4.5" ry="1.8" stroke="#2a2a2a" stroke-width="0.9" fill="#777"/>
<line x1="330" y1="518" x2="384" y2="518" stroke="#4a4a4a" stroke-width="1.2"/>
<text x="385" y="522" class="lb" text-anchor="start" transform="translate(385 522) scale(0.78 1) translate(-385 -522)">14</text>
<rect x="321.5" y="531" width="7.4" height="5.5" rx="0" stroke="#2a2a2a" stroke-width="1.0" fill="#fff"/>
<ellipse cx="325.2" cy="531" rx="3.7" ry="1.5" stroke="#2a2a2a" stroke-width="1.0" fill="#444"/>
<line x1="329" y1="533.5" x2="384" y2="533.5" stroke="#4a4a4a" stroke-width="1.2"/>
<text x="385" y="537.5" class="lb" text-anchor="start" transform="translate(385 537.5) scale(0.78 1) translate(-385 -537.5)">13</text>
<path d="M301,550 L301,553 A23,7.5 0 0 0 347,553 L347,550" stroke="#2a2a2a" stroke-width="1.0" fill="#fff" />
<path d="M301,551.5 A23,7.5 0 0 0 347,551.5" stroke="#333" stroke-width="1.6" fill="none" />
<ellipse cx="324" cy="550" rx="23" ry="7.5" stroke="#2a2a2a" stroke-width="1.1" fill="#fff"/>
<ellipse cx="324" cy="549.5" rx="14.26" ry="4.5" stroke="#555" stroke-width="0.8" fill="none"/>
<ellipse cx="324" cy="550" rx="6.8999999999999995" ry="2.475" stroke="#2a2a2a" stroke-width="1.0" fill="#fff"/>
<ellipse cx="324" cy="550" rx="3.4499999999999997" ry="1.3499999999999999" stroke="#2a2a2a" stroke-width="0.8" fill="#333"/>
<line x1="347" y1="551.5" x2="384" y2="551.5" stroke="#4a4a4a" stroke-width="1.2"/>
<text x="385" y="555.5" class="lb" text-anchor="start" transform="translate(385 555.5) scale(0.78 1) translate(-385 -555.5)">12</text>
<rect x="320" y="566.5" width="10" height="8" rx="0" stroke="#2a2a2a" stroke-width="1.0" fill="#fff"/>
<ellipse cx="325" cy="566.5" rx="5" ry="1.8" stroke="#2a2a2a" stroke-width="1.0" fill="#555"/>
<line x1="330" y1="571" x2="384" y2="571" stroke="#4a4a4a" stroke-width="1.2"/>
<text x="385" y="575" class="lb" text-anchor="start" transform="translate(385 575) scale(0.78 1) translate(-385 -575)">11</text>
<ellipse cx="325" cy="586" rx="3.8" ry="1.7" stroke="#222" stroke-width="1.8" fill="none"/>
<line x1="329" y1="586" x2="384" y2="586" stroke="#4a4a4a" stroke-width="1.2"/>
<text x="385" y="590" class="lb" text-anchor="start" transform="translate(385 590) scale(0.78 1) translate(-385 -590)">10</text>
<rect x="321.8" y="598" width="6.4" height="4.5" rx="0" stroke="none" stroke-width="0" fill="#333"/>
<ellipse cx="325" cy="598" rx="3.2" ry="1.4" stroke="#2a2a2a" stroke-width="0.8" fill="#555"/>
<line x1="329" y1="602" x2="384" y2="602" stroke="#4a4a4a" stroke-width="1.2"/>
<text x="385" y="606" class="lb" text-anchor="start" transform="translate(385 606) scale(0.78 1) translate(-385 -606)">9</text>
<path d="M308,611 L308,614 A17,5.8 0 0 0 342,614 L342,611" stroke="#2a2a2a" stroke-width="1.0" fill="#fff" />
<ellipse cx="325" cy="611" rx="17" ry="5.8" stroke="#2a2a2a" stroke-width="2.6" fill="none"/>
<ellipse cx="325" cy="611" rx="13.5" ry="3.3" stroke="#2a2a2a" stroke-width="0.8" fill="none"/>
<path d="M309.7,628 L309.7,631 A15.3,5 0 0 0 340.3,631 L340.3,628" stroke="#2a2a2a" stroke-width="1.0" fill="#fff" />
<ellipse cx="325" cy="628" rx="15.3" ry="5" stroke="#2a2a2a" stroke-width="1.1" fill="none"/>
<ellipse cx="325" cy="628" rx="11.8" ry="2.5" stroke="#2a2a2a" stroke-width="1.0" fill="none"/>
<polyline points="342,613.4 355.6,613.4 355.6,645.7 350,645.7" stroke="#2a2a2a" stroke-width="1.0" fill="none"/>
<line x1="355.6" y1="630.4" x2="384" y2="630.4" stroke="#4a4a4a" stroke-width="1.2"/>
<text x="385" y="634.4" class="lb" text-anchor="start" transform="translate(385 634.4) scale(0.78 1) translate(-385 -634.4)">8</text>
<path d="M294.4,662 L294.4,668 A30.6,9 0 0 0 355.6,668 L355.6,662" stroke="#2a2a2a" stroke-width="1.1" fill="#fff" />
<path d="M294.4,662 A30.6,9 0 0 0 355.6,662" stroke="#222" stroke-width="1.8" fill="none" />
<ellipse cx="325" cy="662" rx="30.6" ry="9" stroke="#2a2a2a" stroke-width="1.1" fill="none"/>
<path d="M296,652 L296,657 A29,12 0 0 0 354,657 L354,652" stroke="#2a2a2a" stroke-width="1.0" fill="#fff" />
<ellipse cx="325" cy="652" rx="29" ry="12" stroke="#2a2a2a" stroke-width="1.1" fill="#fff"/>
<ellipse cx="325" cy="655" rx="19" ry="7" stroke="#2a2a2a" stroke-width="1.0" fill="#fff"/>
<ellipse cx="325" cy="658" rx="13" ry="4.5" stroke="#2a2a2a" stroke-width="1.0" fill="#3a3a3a"/>
<ellipse cx="325" cy="658" rx="9" ry="3" stroke="#ccc" stroke-width="0.7" fill="none"/>
<path d="M282.5,596 L289,594.7 L291,597 L291,645.7 L282.5,645.7 Z" stroke="#2a2a2a" stroke-width="1.0" fill="#fff" />
<rect x="283.5" y="641" width="6" height="5" rx="0" stroke="#333" stroke-width="0.8" fill="#999"/>
<path d="M359,620 L365.5,618.5 L367.5,621 L367.5,669.5 L359,669.5 Z" stroke="#2a2a2a" stroke-width="1.0" fill="#fff" />
<rect x="359.5" y="664" width="6" height="5.5" rx="0" stroke="#333" stroke-width="0.8" fill="#999"/>
<polyline points="367.5,668 384,666" stroke="#2a2a2a" stroke-width="1.0" fill="none"/>
<line x1="287" y1="646" x2="287" y2="660" stroke="#2a2a2a" stroke-width="0.8"/>
<line x1="363" y1="670" x2="356" y2="676" stroke="#2a2a2a" stroke-width="0.8"/>
<text x="389" y="670" class="lb" text-anchor="start" transform="translate(389 670) scale(0.78 1) translate(-389 -670)">7</text>
<rect x="298.8" y="673.5" width="4.6" height="9" rx="0" stroke="none" stroke-width="0" fill="#333"/>
<rect x="298.3" y="681.5" width="5.6" height="4.5" rx="1" stroke="#2a2a2a" stroke-width="0.9" fill="#ddd"/>
<rect x="342.5" y="684" width="4.6" height="10" rx="0" stroke="none" stroke-width="0" fill="#333"/>
<rect x="342" y="693" width="5.6" height="4.8" rx="1" stroke="#2a2a2a" stroke-width="0.9" fill="#ddd"/>
<path d="M337,672 L350,672 L350,680 L337,680 Z" stroke="#2a2a2a" stroke-width="1.0" fill="#fff" />
<polygon points="79.2,771.2 79.2,784.7 87.324,788.3720000000001 87.324,783.3720000000001 134.71399999999997,804.792 134.71399999999997,809.792 146.89999999999998,815.3000000000001 156.14799999999997,811.5400000000001 156.14799999999997,806.5400000000001 198.92,789.1500000000001 198.92,794.1500000000001 204.7,791.8000000000001 204.7,778.3000000000001 146.89999999999998,801.8000000000001" stroke="#2a2a2a" stroke-width="1.1" fill="#fff"/>
<line x1="146.89999999999998" y1="801.8000000000001" x2="146.89999999999998" y2="815.3000000000001" stroke="#2a2a2a" stroke-width="1.0"/>
<line x1="142.89999999999998" y1="800.8000000000001" x2="142.89999999999998" y2="814.3000000000001" stroke="#666" stroke-width="0.7"/>
<polygon points="79.2,771.2 134.2,747.9000000000001 204.7,778.3000000000001 146.89999999999998,801.8000000000001" stroke="#2a2a2a" stroke-width="1.2" fill="#fff"/>
<polyline points="79.2,774.2 146.89999999999998,804.8000000000001 204.7,781.3000000000001" stroke="#666" stroke-width="0.8" fill="none"/>
<polygon points="83.5925,771.6088000000001 134.74249999999998,750.9184000000001 200.30749999999998,777.9136000000001 146.55349999999999,798.7816" stroke="#888" stroke-width="0.7" fill="none"/>
<ellipse cx="143.0" cy="771.7" rx="35.5" ry="16.3" stroke="#2a2a2a" stroke-width="1.3" fill="#fff"/>
<ellipse cx="143.0" cy="772.2" rx="33" ry="14.5" stroke="#2a2a2a" stroke-width="1.1" fill="none"/>
<ellipse cx="143.0" cy="773.2" rx="31" ry="12.5" stroke="#777" stroke-width="0.8" fill="none"/>
<path d="M113.0,775.7 A30,11 0 0 0 173.0,775.7" stroke="#777" stroke-width="0.7" fill="none" />
<ellipse cx="142.5" cy="779.7" rx="7.5" ry="4.2" stroke="#2a2a2a" stroke-width="1.0" fill="#fff"/>
<ellipse cx="142.5" cy="779.7" rx="4.5" ry="2.4" stroke="#666" stroke-width="0.8" fill="none"/>
<ellipse cx="99.0" cy="772.1" rx="2.8" ry="1.8" stroke="none" stroke-width="0" fill="#222"/>
<ellipse cx="141.2" cy="791.0" rx="2.8" ry="1.8" stroke="none" stroke-width="0" fill="#222"/>
<ellipse cx="184.5" cy="773.0" rx="2.8" ry="1.8" stroke="none" stroke-width="0" fill="#222"/>
<ellipse cx="90.9" cy="765.8000000000001" rx="2.3" ry="1.4" stroke="#2a2a2a" stroke-width="0.8" fill="#fff"/>
<ellipse cx="153.8" cy="794.5" rx="2.3" ry="1.4" stroke="#2a2a2a" stroke-width="0.8" fill="#fff"/>
<ellipse cx="191.5" cy="777.5" rx="2.3" ry="1.4" stroke="#2a2a2a" stroke-width="0.8" fill="#fff"/>
<ellipse cx="129.5" cy="751.5" rx="2.3" ry="1.4" stroke="#2a2a2a" stroke-width="0.8" fill="#fff"/>
<path d="M115.44999999999999,763.3850000000001 l14,-5 M116.44999999999999,765.8850000000001 l14,-5" stroke="#444" stroke-width="1.0" fill="none" />
<path d="M174.69,782.8750000000001 l14,-6 M175.69,785.3750000000001 l14,-6" stroke="#444" stroke-width="1.0" fill="none" />
<polygon points="261.7,838.7 261.7,852.2 269.824,855.8720000000001 269.824,850.8720000000001 317.214,872.292 317.214,877.292 329.4,882.8000000000001 338.64799999999997,879.0400000000001 338.64799999999997,874.0400000000001 381.41999999999996,856.6500000000001 381.41999999999996,861.6500000000001 387.2,859.3000000000001 387.2,845.8000000000001 329.4,869.3000000000001" stroke="#2a2a2a" stroke-width="1.1" fill="#fff"/>
<line x1="329.4" y1="869.3000000000001" x2="329.4" y2="882.8000000000001" stroke="#2a2a2a" stroke-width="1.0"/>
<line x1="325.4" y1="868.3000000000001" x2="325.4" y2="881.8000000000001" stroke="#666" stroke-width="0.7"/>
<polygon points="261.7,838.7 316.7,815.4000000000001 387.2,845.8000000000001 329.4,869.3000000000001" stroke="#2a2a2a" stroke-width="1.2" fill="#fff"/>
<polyline points="261.7,841.7 329.4,872.3000000000001 387.2,848.8000000000001" stroke="#666" stroke-width="0.8" fill="none"/>
<polygon points="266.0925,839.1088000000001 317.2425,818.4184000000001 382.8075,845.4136000000001 329.0535,866.2816" stroke="#888" stroke-width="0.7" fill="none"/>
<ellipse cx="325.5" cy="839.2" rx="35.5" ry="16.3" stroke="#2a2a2a" stroke-width="1.3" fill="#fff"/>
<ellipse cx="325.5" cy="839.7" rx="33" ry="14.5" stroke="#2a2a2a" stroke-width="1.1" fill="none"/>
<ellipse cx="325.5" cy="840.7" rx="31" ry="12.5" stroke="#777" stroke-width="0.8" fill="none"/>
<path d="M295.5,843.2 A30,11 0 0 0 355.5,843.2" stroke="#777" stroke-width="0.7" fill="none" />
<ellipse cx="325.0" cy="847.2" rx="7.5" ry="4.2" stroke="#2a2a2a" stroke-width="1.0" fill="#fff"/>
<ellipse cx="325.0" cy="847.2" rx="4.5" ry="2.4" stroke="#666" stroke-width="0.8" fill="none"/>
<ellipse cx="281.5" cy="839.6" rx="2.8" ry="1.8" stroke="none" stroke-width="0" fill="#222"/>
<ellipse cx="323.7" cy="858.5" rx="2.8" ry="1.8" stroke="none" stroke-width="0" fill="#222"/>
<ellipse cx="367.0" cy="840.5" rx="2.8" ry="1.8" stroke="none" stroke-width="0" fill="#222"/>
<ellipse cx="273.4" cy="833.3000000000001" rx="2.3" ry="1.4" stroke="#2a2a2a" stroke-width="0.8" fill="#fff"/>
<ellipse cx="336.29999999999995" cy="862.0" rx="2.3" ry="1.4" stroke="#2a2a2a" stroke-width="0.8" fill="#fff"/>
<ellipse cx="374.0" cy="845.0" rx="2.3" ry="1.4" stroke="#2a2a2a" stroke-width="0.8" fill="#fff"/>
<ellipse cx="312.0" cy="819.0" rx="2.3" ry="1.4" stroke="#2a2a2a" stroke-width="0.8" fill="#fff"/>
<path d="M297.95,830.8850000000001 l14,-5 M298.95,833.3850000000001 l14,-5" stroke="#444" stroke-width="1.0" fill="none" />
<path d="M357.19,850.3750000000001 l14,-6 M358.19,852.8750000000001 l14,-6" stroke="#444" stroke-width="1.0" fill="none" />
<polygon points="407.6,943.2 407.6,956.7 415.72400000000005,960.3720000000001 415.72400000000005,955.3720000000001 463.11400000000003,976.792 463.11400000000003,981.792 475.3,987.3000000000001 484.548,983.5400000000001 484.548,978.5400000000001 527.32,961.1500000000001 527.32,966.1500000000001 533.1,963.8000000000001 533.1,950.3000000000001 475.3,973.8000000000001" stroke="#2a2a2a" stroke-width="1.1" fill="#fff"/>
<line x1="475.3" y1="973.8000000000001" x2="475.3" y2="987.3000000000001" stroke="#2a2a2a" stroke-width="1.0"/>
<line x1="471.3" y1="972.8000000000001" x2="471.3" y2="986.3000000000001" stroke="#666" stroke-width="0.7"/>
<polygon points="407.6,943.2 462.6,919.9000000000001 533.1,950.3000000000001 475.3,973.8000000000001" stroke="#2a2a2a" stroke-width="1.2" fill="#fff"/>
<polyline points="407.6,946.2 475.3,976.8000000000001 533.1,953.3000000000001" stroke="#666" stroke-width="0.8" fill="none"/>
<polygon points="411.9925,943.6088000000001 463.14250000000004,922.9184000000001 528.7075,949.9136000000001 474.9535,970.7816" stroke="#888" stroke-width="0.7" fill="none"/>
<ellipse cx="471.40000000000003" cy="943.7" rx="35.5" ry="16.3" stroke="#2a2a2a" stroke-width="1.3" fill="#fff"/>
<ellipse cx="471.40000000000003" cy="944.2" rx="33" ry="14.5" stroke="#2a2a2a" stroke-width="1.1" fill="none"/>
<ellipse cx="471.40000000000003" cy="945.2" rx="31" ry="12.5" stroke="#777" stroke-width="0.8" fill="none"/>
<path d="M441.40000000000003,947.7 A30,11 0 0 0 501.40000000000003,947.7" stroke="#777" stroke-width="0.7" fill="none" />
<ellipse cx="470.90000000000003" cy="951.7" rx="7.5" ry="4.2" stroke="#2a2a2a" stroke-width="1.0" fill="#fff"/>
<ellipse cx="470.90000000000003" cy="951.7" rx="4.5" ry="2.4" stroke="#666" stroke-width="0.8" fill="none"/>
<ellipse cx="427.40000000000003" cy="944.1" rx="2.8" ry="1.8" stroke="none" stroke-width="0" fill="#222"/>
<ellipse cx="469.6" cy="963.0" rx="2.8" ry="1.8" stroke="none" stroke-width="0" fill="#222"/>
<ellipse cx="512.9" cy="945.0" rx="2.8" ry="1.8" stroke="none" stroke-width="0" fill="#222"/>
<ellipse cx="419.3" cy="937.8000000000001" rx="2.3" ry="1.4" stroke="#2a2a2a" stroke-width="0.8" fill="#fff"/>
<ellipse cx="482.20000000000005" cy="966.5" rx="2.3" ry="1.4" stroke="#2a2a2a" stroke-width="0.8" fill="#fff"/>
<ellipse cx="519.9" cy="949.5" rx="2.3" ry="1.4" stroke="#2a2a2a" stroke-width="0.8" fill="#fff"/>
<ellipse cx="457.90000000000003" cy="923.5" rx="2.3" ry="1.4" stroke="#2a2a2a" stroke-width="0.8" fill="#fff"/>
<path d="M443.85,935.3850000000001 l14,-5 M444.85,937.8850000000001 l14,-5" stroke="#444" stroke-width="1.0" fill="none" />
<path d="M503.09000000000003,954.8750000000001 l14,-6 M504.09000000000003,957.3750000000001 l14,-6" stroke="#444" stroke-width="1.0" fill="none" />
<line x1="14" y1="762" x2="250" y2="671" stroke="#555" stroke-width="0.8"/>
<path d="M175.07,703.95 Q172.00,700.00 175.54,696.46 L178.46,693.54 Q182.00,690.00 184.88,694.08 L191.12,702.92 Q194.00,707.00 191.06,711.04 L188.94,713.96 Q186.00,718.00 182.93,714.05 Z" stroke="#2a2a2a" stroke-width="1.1" fill="#fff" />
<ellipse cx="183" cy="703" rx="5" ry="8" stroke="#2a2a2a" stroke-width="1.1" fill="#fff" transform="rotate(-25 183 703)"/>
<ellipse cx="183" cy="703" rx="3.5" ry="6.5" stroke="#777" stroke-width="0.7" fill="none" transform="rotate(-25 183 703)"/>
<path d="M105.5,700.3 L105.5,730.3 A36.4,17.3 0 0 0 178.3,730.3 L178.3,700.3" stroke="#2a2a2a" stroke-width="1.1" fill="#fff" />
<path d="M104.5,700.3 L104.5,704.3 A37.4,17.3 0 0 0 179.3,704.3 L179.3,700.3" stroke="#2a2a2a" stroke-width="1.1" fill="#fff" />
<ellipse cx="141.9" cy="700.3" rx="37.4" ry="17.3" stroke="#2a2a2a" stroke-width="1.3" fill="#d4d4d4"/>
<ellipse cx="141.9" cy="700.5999999999999" rx="34.4" ry="14.700000000000001" stroke="#2a2a2a" stroke-width="1.0" fill="#fff"/>
<path d="M107.5,700.3 A34.4,14.700000000000001 0 0 1 176.3,700.3" stroke="#333" stroke-width="2.2" fill="none" />
<path d="M109.0,701.8 A32.9,13.3 0 0 1 174.8,701.8" stroke="#666" stroke-width="0.8" fill="none" />
<ellipse cx="141.9" cy="702.8" rx="18" ry="7.5" stroke="#2a2a2a" stroke-width="1.1" fill="#fff"/>
<ellipse cx="141.9" cy="701.8" rx="15" ry="5.0" stroke="#666" stroke-width="0.8" fill="none"/>
<path d="M123.9,702.8 L123.9,706.3 M159.9,702.8 L159.9,706.3" stroke="#2a2a2a" stroke-width="0.9" fill="none" />
<path d="M157.9,695.3 q4,-2 6,1 l-1,8" stroke="#2a2a2a" stroke-width="0.9" fill="none" />
<ellipse cx="166.3" cy="732.7" rx="2.3" ry="3" stroke="none" stroke-width="0" fill="#222"/>
<path d="M97.93,723.94 Q94.40,720.40 98.82,718.07 L100.78,717.03 Q105.20,714.70 109.83,716.58 L135.77,727.12 Q140.40,729.00 136.37,731.96 L122.83,741.94 Q118.80,744.90 115.27,741.36 Z" stroke="#2a2a2a" stroke-width="1.1" fill="#fff" />
<ellipse cx="111.6" cy="729.8" rx="10" ry="12.2" stroke="#2a2a2a" stroke-width="1.1" fill="#fff" transform="rotate(-10 111.6 729.8)"/>
<ellipse cx="111.6" cy="729.8" rx="8.5" ry="10.7" stroke="#777" stroke-width="0.7" fill="none" transform="rotate(-10 111.6 729.8)"/>
<ellipse cx="97.3" cy="721" rx="2.2" ry="2.2" stroke="none" stroke-width="0" fill="#222"/>
<ellipse cx="126" cy="734" rx="2.2" ry="2.2" stroke="none" stroke-width="0" fill="#222"/>
<path d="M71.73,734.64 Q68.30,731.00 72.60,728.45 L76.30,726.25 Q80.60,723.70 84.19,727.18 L100.01,742.52 Q103.60,746.00 99.13,748.24 L93.67,750.96 Q89.20,753.20 85.77,749.56 Z" stroke="#2a2a2a" stroke-width="1.1" fill="#fff" />
<ellipse cx="87.8" cy="738.5" rx="9.5" ry="11.5" stroke="#2a2a2a" stroke-width="1.1" fill="#fff" transform="rotate(-15 87.8 738.5)"/>
<ellipse cx="87.8" cy="738.5" rx="8.0" ry="10.0" stroke="#777" stroke-width="0.7" fill="none" transform="rotate(-15 87.8 738.5)"/>
<ellipse cx="71" cy="732" rx="2.2" ry="2.2" stroke="#2a2a2a" stroke-width="0.8" fill="#fff"/>
<ellipse cx="100" cy="746" rx="2.2" ry="2.2" stroke="#2a2a2a" stroke-width="0.8" fill="#fff"/>
<path d="M43.36,747.15 Q40.30,743.20 44.88,741.20 L57.32,735.80 Q61.90,733.80 65.12,737.62 L77.38,752.18 Q80.60,756.00 75.98,757.91 L62.22,763.59 Q57.60,765.50 54.54,761.55 Z" stroke="#2a2a2a" stroke-width="1.1" fill="#fff" />
<ellipse cx="56.8" cy="751" rx="8.0" ry="11.5" stroke="#222" stroke-width="1.0" fill="#3a3a3a" transform="rotate(-10 56.8 751)"/>
<ellipse cx="59.0" cy="751.3" rx="4.3" ry="8.2" stroke="#222" stroke-width="0.9" fill="#f4f4f4" transform="rotate(-10 59.0 751.3)"/>
<ellipse cx="60.0" cy="751.5" rx="2.5" ry="6.9" stroke="#999" stroke-width="0.6" fill="#fff" transform="rotate(-10 60.0 751.5)"/>
<ellipse cx="43.2" cy="744.6" rx="2.2" ry="2.2" stroke="#2a2a2a" stroke-width="0.8" fill="#fff"/>
<ellipse cx="72.7" cy="757.6" rx="2.2" ry="2.2" stroke="#2a2a2a" stroke-width="0.8" fill="#fff"/>
<path d="M178.41,688.83 Q175.60,684.70 180.14,682.60 L186.66,679.60 Q191.20,677.50 194.18,681.52 L206.02,697.48 Q209.00,701.50 204.74,704.11 L197.76,708.39 Q193.50,711.00 190.69,706.87 Z" stroke="#2a2a2a" stroke-width="1.1" fill="#fff" />
<ellipse cx="192.5" cy="694" rx="9.5" ry="11.5" stroke="#2a2a2a" stroke-width="1.1" fill="#fff" transform="rotate(-15 192.5 694)"/>
<ellipse cx="192.5" cy="694" rx="8.0" ry="10.0" stroke="#777" stroke-width="0.7" fill="none" transform="rotate(-15 192.5 694)"/>
<ellipse cx="179" cy="686" rx="2.2" ry="2.2" stroke="#2a2a2a" stroke-width="0.8" fill="#fff"/>
<ellipse cx="205" cy="703" rx="2.2" ry="2.2" stroke="#2a2a2a" stroke-width="0.8" fill="#fff"/>
<path d="M203.22,680.84 Q199.50,677.50 203.86,675.05 L214.34,669.15 Q218.70,666.70 222.43,670.02 L237.77,683.68 Q241.50,687.00 237.34,689.77 L227.66,696.23 Q223.50,699.00 219.78,695.66 Z" stroke="#2a2a2a" stroke-width="1.1" fill="#fff" />
<ellipse cx="215" cy="683.5" rx="9.0" ry="13" stroke="#222" stroke-width="1.0" fill="#3a3a3a" transform="rotate(-10 215 683.5)"/>
<ellipse cx="217.2" cy="683.8" rx="5.3" ry="9.7" stroke="#222" stroke-width="0.9" fill="#f4f4f4" transform="rotate(-10 217.2 683.8)"/>
<ellipse cx="218.2" cy="684.0" rx="3.5" ry="8.4" stroke="#999" stroke-width="0.6" fill="#fff" transform="rotate(-10 218.2 684.0)"/>
<ellipse cx="203" cy="678" rx="2.2" ry="2.2" stroke="#2a2a2a" stroke-width="0.8" fill="#fff"/>
<ellipse cx="236" cy="690" rx="2.2" ry="2.2" stroke="#2a2a2a" stroke-width="0.8" fill="#fff"/>
<line x1="17" y1="753.5" x2="33.5" y2="748" stroke="#2e2e2e" stroke-width="4.5"/>
<ellipse cx="17" cy="753.5" rx="3.8249999999999997" ry="4.2749999999999995" stroke="#2a2a2a" stroke-width="1.1" fill="#e6e6e6"/>
<ellipse cx="17" cy="753.5" rx="1.8" ry="2.025" stroke="#2a2a2a" stroke-width="0.9" fill="#fff"/>
<line x1="38" y1="769.5" x2="55" y2="763.5" stroke="#2e2e2e" stroke-width="4.5"/>
<ellipse cx="38" cy="769.5" rx="3.8249999999999997" ry="4.2749999999999995" stroke="#2a2a2a" stroke-width="1.1" fill="#e6e6e6"/>
<ellipse cx="38" cy="769.5" rx="1.8" ry="2.025" stroke="#2a2a2a" stroke-width="0.9" fill="#fff"/>
<line x1="241.5" y1="659.5" x2="226" y2="665" stroke="#2e2e2e" stroke-width="4.2"/>
<ellipse cx="241.5" cy="659.5" rx="3.57" ry="3.9899999999999998" stroke="#2a2a2a" stroke-width="1.1" fill="#e6e6e6"/>
<ellipse cx="241.5" cy="659.5" rx="1.6800000000000002" ry="1.8900000000000001" stroke="#2a2a2a" stroke-width="0.9" fill="#fff"/>
<line x1="267" y1="673.5" x2="251" y2="679" stroke="#2e2e2e" stroke-width="4.2"/>
<ellipse cx="267" cy="673.5" rx="3.57" ry="3.9899999999999998" stroke="#2a2a2a" stroke-width="1.1" fill="#e6e6e6"/>
<ellipse cx="267" cy="673.5" rx="1.6800000000000002" ry="1.8900000000000001" stroke="#2a2a2a" stroke-width="0.9" fill="#fff"/>
<ellipse cx="176.2" cy="737.3" rx="1.6" ry="1.6" stroke="none" stroke-width="0" fill="#222"/>
<ellipse cx="184" cy="740.7" rx="1.4" ry="1.4" stroke="none" stroke-width="0" fill="#333"/>
<ellipse cx="193" cy="744.5" rx="2.8" ry="3.6" stroke="#2a2a2a" stroke-width="1.0" fill="#fff"/>
<ellipse cx="203" cy="749" rx="4.5" ry="4.5" stroke="#2a2a2a" stroke-width="1.0" fill="#333"/>
<ellipse cx="203" cy="749" rx="1.8" ry="1.8" stroke="#2a2a2a" stroke-width="0.6" fill="#999"/>
<line x1="212" y1="752" x2="229" y2="760" stroke="#333" stroke-width="3.2"/>
<line x1="207" y1="751" x2="213" y2="753" stroke="#666" stroke-width="1.5"/>
<polyline points="175,735.7 220,735.7 220,752.5 214,752.5" stroke="#2a2a2a" stroke-width="0.9" fill="none"/>
<line x1="180" y1="738.5" x2="220" y2="738.5" stroke="#2a2a2a" stroke-width="0.9"/>
<line x1="220" y1="742.4" x2="248" y2="742.4" stroke="#4a4a4a" stroke-width="1.2"/>
<text x="249" y="746.4" class="lb" text-anchor="start" transform="translate(249 746.4) scale(0.78 1) translate(-249 -746.4)">2</text>
<line x1="176.2" y1="725.6" x2="248" y2="725.6" stroke="#4a4a4a" stroke-width="1.2"/>
<text x="249" y="729.6" class="lb" text-anchor="start" transform="translate(249 729.6) scale(0.78 1) translate(-249 -729.6)">3a</text>
<line x1="204.8" y1="774.3" x2="248" y2="774.3" stroke="#4a4a4a" stroke-width="1.2"/>
<text x="249" y="778.3" class="lb" text-anchor="start" transform="translate(249 778.3) scale(0.78 1) translate(-249 -778.3)">1</text>
<line x1="228" y1="667" x2="247.5" y2="667" stroke="#4a4a4a" stroke-width="1.2"/>
<text x="248.5" y="671" class="lb" text-anchor="start" transform="translate(248.5 671) scale(0.78 1) translate(-248.5 -671)">6a</text>
<line x1="228.3" y1="691.4" x2="247.5" y2="691.4" stroke="#4a4a4a" stroke-width="1.2"/>
<text x="248.5" y="695.4" class="lb" text-anchor="start" transform="translate(248.5 695.4) scale(0.78 1) translate(-248.5 -695.4)">5a</text>
<line x1="199.5" y1="708.7" x2="247.5" y2="708.7" stroke="#4a4a4a" stroke-width="1.2"/>
<text x="248.5" y="712.7" class="lb" text-anchor="start" transform="translate(248.5 712.7) scale(0.78 1) translate(-248.5 -712.7)">4a</text>
<line x1="141.9" y1="650" x2="141.9" y2="800" stroke="#2a2a2a" stroke-width="0.8"/>
<line x1="200" y1="834" x2="440" y2="721.5" stroke="#555" stroke-width="0.8"/>
<ellipse cx="453.0" cy="718.0" rx="26" ry="34.5" stroke="#2a2a2a" stroke-width="1.2" fill="#fff" transform="rotate(-18 453.0 718.0)"/>
<ellipse cx="450.5" cy="717.5" rx="26" ry="34.5" stroke="#2a2a2a" stroke-width="1.2" fill="#fff" transform="rotate(-18 450.5 717.5)"/>
<ellipse cx="450.5" cy="717.5" rx="24.2" ry="32.7" stroke="#888" stroke-width="0.6" fill="none" transform="rotate(-18 450.5 717.5)"/>
<ellipse cx="450.5" cy="717.5" rx="15" ry="21" stroke="#444" stroke-width="1.0" fill="#fff" transform="rotate(-18 450.5 717.5)"/>
<ellipse cx="450.5" cy="717.5" rx="11" ry="17" stroke="#2a2a2a" stroke-width="1.2" fill="#fff" transform="rotate(-18 450.5 717.5)"/>
<path d="M450.5,700.5 A11,17 0 0 0 450.5,734.5 A8.5,16.5 0 0 1 450.5,700.5 Z" stroke="#2a2a2a" stroke-width="0.6" fill="#777" transform="rotate(-18 450.5 717.5)"/>
<ellipse cx="471.0010099267605" cy="721.6321695101947" rx="2.3" ry="3.9" stroke="#2a2a2a" stroke-width="0.9" fill="#fff" transform="rotate(-18 471.0010099267605 721.6321695101947)"/>
<ellipse cx="465.41628419895056" cy="738.8524462087122" rx="2.3" ry="3.9" stroke="#2a2a2a" stroke-width="0.9" fill="#fff" transform="rotate(-18 465.41628419895056 738.8524462087122)"/>
<ellipse cx="451.0938014876068" cy="743.5647495080078" rx="2.3" ry="3.9" stroke="#2a2a2a" stroke-width="0.9" fill="#fff" transform="rotate(-18 451.0938014876068 743.5647495080078)"/>
<ellipse cx="436.4234779181803" cy="733.0086760453701" rx="2.3" ry="3.9" stroke="#2a2a2a" stroke-width="0.9" fill="#fff" transform="rotate(-18 436.4234779181803 733.0086760453701)"/>
<ellipse cx="429.9989900732395" cy="713.3678304898053" rx="2.3" ry="3.9" stroke="#2a2a2a" stroke-width="0.9" fill="#fff" transform="rotate(-18 429.9989900732395 713.3678304898053)"/>
<ellipse cx="435.58371580104944" cy="696.1475537912878" rx="2.3" ry="3.9" stroke="#2a2a2a" stroke-width="0.9" fill="#fff" transform="rotate(-18 435.58371580104944 696.1475537912878)"/>
<ellipse cx="449.9061985123932" cy="691.4352504919922" rx="2.3" ry="3.9" stroke="#2a2a2a" stroke-width="0.9" fill="#fff" transform="rotate(-18 449.9061985123932 691.4352504919922)"/>
<ellipse cx="464.5765220818197" cy="701.9913239546299" rx="2.3" ry="3.9" stroke="#2a2a2a" stroke-width="0.9" fill="#fff" transform="rotate(-18 464.5765220818197 701.9913239546299)"/>
<ellipse cx="217.0" cy="827.9" rx="25.5" ry="33" stroke="#2a2a2a" stroke-width="1.2" fill="#fff" transform="rotate(-18 217.0 827.9)"/>
<ellipse cx="214.5" cy="827.4" rx="25.5" ry="33" stroke="#2a2a2a" stroke-width="1.2" fill="#fff" transform="rotate(-18 214.5 827.4)"/>
<ellipse cx="214.5" cy="827.4" rx="23.7" ry="31.2" stroke="#888" stroke-width="0.6" fill="none" transform="rotate(-18 214.5 827.4)"/>
<ellipse cx="214.5" cy="827.4" rx="15" ry="20.5" stroke="#444" stroke-width="1.0" fill="#fff" transform="rotate(-18 214.5 827.4)"/>
<ellipse cx="214.5" cy="827.4" rx="11" ry="16.5" stroke="#2a2a2a" stroke-width="1.2" fill="#fff" transform="rotate(-18 214.5 827.4)"/>
<path d="M214.5,810.9 A11,16.5 0 0 0 214.5,843.9 A8.5,16.0 0 0 1 214.5,810.9 Z" stroke="#2a2a2a" stroke-width="0.6" fill="#777" transform="rotate(-18 214.5 827.4)"/>
<ellipse cx="234.38496251057538" cy="831.1327048146342" rx="2.3" ry="3.9" stroke="#2a2a2a" stroke-width="0.9" fill="#fff" transform="rotate(-18 234.38496251057538 831.1327048146342)"/>
<ellipse cx="228.80536090491503" cy="847.4954449565229" rx="2.3" ry="3.9" stroke="#2a2a2a" stroke-width="0.9" fill="#fff" transform="rotate(-18 228.80536090491503 847.4954449565229)"/>
<ellipse cx="214.84587289579733" cy="852.0865459848026" rx="2.3" ry="3.9" stroke="#2a2a2a" stroke-width="0.9" fill="#fff" transform="rotate(-18 214.84587289579733 852.0865459848026)"/>
<ellipse cx="200.68377723517878" cy="842.2166031833319" rx="2.3" ry="3.9" stroke="#2a2a2a" stroke-width="0.9" fill="#fff" transform="rotate(-18 200.68377723517878 842.2166031833319)"/>
<ellipse cx="194.61503748942462" cy="823.6672951853658" rx="2.3" ry="3.9" stroke="#2a2a2a" stroke-width="0.9" fill="#fff" transform="rotate(-18 194.61503748942462 823.6672951853658)"/>
<ellipse cx="200.19463909508497" cy="807.3045550434771" rx="2.3" ry="3.9" stroke="#2a2a2a" stroke-width="0.9" fill="#fff" transform="rotate(-18 200.19463909508497 807.3045550434771)"/>
<ellipse cx="214.15412710420267" cy="802.7134540151974" rx="2.3" ry="3.9" stroke="#2a2a2a" stroke-width="0.9" fill="#fff" transform="rotate(-18 214.15412710420267 802.7134540151974)"/>
<ellipse cx="228.31622276482122" cy="812.583396816668" rx="2.3" ry="3.9" stroke="#2a2a2a" stroke-width="0.9" fill="#fff" transform="rotate(-18 228.31622276482122 812.583396816668)"/>
<path d="M395.56,726.96 A14.5,19.2 0 1 1 393.12,726.09 L392.74,728.26 A12.3,17.0 0 1 0 394.81,729.03 Z" stroke="#333" stroke-width="1.1" fill="#bbb" transform="rotate(-12 390.6 745)"/>
<path d="M259.63,789.38 A15,19.5 0 1 1 257.10,788.50 L256.72,790.66 A12.8,17.3 0 1 0 258.88,791.44 Z" stroke="#333" stroke-width="1.1" fill="#bbb" transform="rotate(-12 254.5 807.7)"/>
<path d="M353,742 C357,737.5 366,736 372,740.5 C379,746 383,760 379,771 C376,775.5 369,776 362,775 L358,770 Z" stroke="#2a2a2a" stroke-width="1.1" fill="#fff" />
<path d="M359,740.5 C365,738 370,740 374,744 C379,750 381,762 378,770 C376,773 372,774.5 368,774.5 C372,765 371,752 366,746 C364,743 361,741.5 359,740.5 Z" stroke="#2a2a2a" stroke-width="0.9" fill="#4a4a4a" />
<path d="M356,742.5 C363,742 368,750 369,758 C370,765 367,772 363,774.5" stroke="#2a2a2a" stroke-width="1.0" fill="none" />
<path d="M286.8,758 L286.8,791 A37.2,18.3 0 0 0 361.2,791 L361.2,758" stroke="#2a2a2a" stroke-width="1.1" fill="#fff" />
<path d="M285.8,758 L285.8,762 A38.2,18.3 0 0 0 362.2,762 L362.2,758" stroke="#2a2a2a" stroke-width="1.1" fill="#fff" />
<ellipse cx="324" cy="758" rx="38.2" ry="18.3" stroke="#2a2a2a" stroke-width="1.3" fill="#d4d4d4"/>
<ellipse cx="324" cy="758.3" rx="35.2" ry="15.700000000000001" stroke="#2a2a2a" stroke-width="1.0" fill="#fff"/>
<path d="M288.8,758 A35.2,15.700000000000001 0 0 1 359.2,758" stroke="#333" stroke-width="2.2" fill="none" />
<path d="M290.3,759.5 A33.7,14.3 0 0 1 357.7,759.5" stroke="#666" stroke-width="0.8" fill="none" />
<ellipse cx="324" cy="760.5" rx="18" ry="7.5" stroke="#2a2a2a" stroke-width="1.1" fill="#fff"/>
<ellipse cx="324" cy="759.5" rx="15" ry="5.0" stroke="#666" stroke-width="0.8" fill="none"/>
<path d="M306,760.5 L306,764 M342,760.5 L342,764" stroke="#2a2a2a" stroke-width="0.9" fill="none" />
<path d="M340,753 q4,-2 6,1 l-1,8" stroke="#2a2a2a" stroke-width="0.9" fill="none" />
<path d="M279,774 L305,769 C309,778 311,792 309,802 L291.5,810.5 Z" stroke="none" stroke-width="0" fill="#fff" />
<path d="M279,774 L305,769.5" stroke="#2a2a2a" stroke-width="1.1" fill="none" />
<path d="M291.5,810.5 L309,802.5" stroke="#2a2a2a" stroke-width="1.1" fill="none" />
<path d="M305,769.5 C308,778 310,792 309,802.5" stroke="#666" stroke-width="0.8" fill="none" />
<ellipse cx="283" cy="791.8" rx="15.4" ry="19.4" stroke="#2a2a2a" stroke-width="2.4" fill="#fff" transform="rotate(-12 283 791.8)"/>
<ellipse cx="283" cy="792.3" rx="11.5" ry="15.2" stroke="#2a2a2a" stroke-width="1.0" fill="#fff" transform="rotate(-12 283 792.3)"/>
<ellipse cx="348.5" cy="794" rx="2.8" ry="3.4" stroke="none" stroke-width="0" fill="#222"/>
<ellipse cx="357.6" cy="798.6" rx="1.8" ry="1.8" stroke="none" stroke-width="0" fill="#222"/>
<ellipse cx="364.4" cy="801.6" rx="1.4" ry="1.4" stroke="none" stroke-width="0" fill="#333"/>
<ellipse cx="373.5" cy="806.6" rx="3.2" ry="4.3" stroke="#2a2a2a" stroke-width="1.0" fill="#fff"/>
<ellipse cx="385" cy="811" rx="5" ry="5" stroke="#2a2a2a" stroke-width="1.0" fill="#333"/>
<ellipse cx="385" cy="811" rx="1.8" ry="1.8" stroke="#2a2a2a" stroke-width="0.6" fill="#999"/>
<line x1="395" y1="815.5" x2="410" y2="821.5" stroke="#333" stroke-width="3.4"/>
<polyline points="353,796.3 399.7,796.3 399.7,815.7 394,815.7" stroke="#2a2a2a" stroke-width="0.9" fill="none"/>
<line x1="358" y1="799.6" x2="399.7" y2="799.6" stroke="#2a2a2a" stroke-width="0.9"/>
<line x1="399.7" y1="804.3" x2="411" y2="804.3" stroke="#4a4a4a" stroke-width="1.2"/>
<text x="412" y="808.3" class="lb" text-anchor="start" transform="translate(412 808.3) scale(0.78 1) translate(-412 -808.3)">2</text>
<line x1="360" y1="777" x2="411" y2="777" stroke="#4a4a4a" stroke-width="1.2"/>
<text x="412" y="781" class="lb" text-anchor="start" transform="translate(412 781) scale(0.78 1) translate(-412 -781)">3b</text>
<line x1="406" y1="749.6" x2="411" y2="749.6" stroke="#4a4a4a" stroke-width="1.2"/>
<text x="412" y="754" class="lb" text-anchor="start" transform="translate(412 754) scale(0.78 1) translate(-412 -754)">4b</text>
<line x1="420.8" y1="725.6" x2="449.6" y2="717.2" stroke="#2a2a2a" stroke-width="0.8"/>
<text x="411.5" y="729.4" class="lb" text-anchor="start" transform="translate(411.5 729.4) scale(0.78 1) translate(-411.5 -729.4)">5b</text>
<line x1="380" y1="831.3" x2="411" y2="831.3" stroke="#4a4a4a" stroke-width="1.2"/>
<text x="412" y="835.3" class="lb" text-anchor="start" transform="translate(412 835.3) scale(0.78 1) translate(-412 -835.3)">1</text>
<path d="M499.4,866 L508,862.3 C514,866 517,876 516.7,884 L510,888 Z" stroke="#2a2a2a" stroke-width="1.1" fill="#333" />
<path d="M433.3,874.7 L433.3,907.7 A36.4,16.3 0 0 0 506.09999999999997,907.7 L506.09999999999997,874.7" stroke="#2a2a2a" stroke-width="1.1" fill="#fff" />
<path d="M432.3,874.7 L432.3,878.7 A37.4,16.3 0 0 0 507.09999999999997,878.7 L507.09999999999997,874.7" stroke="#2a2a2a" stroke-width="1.1" fill="#fff" />
<ellipse cx="469.7" cy="874.7" rx="37.4" ry="16.3" stroke="#2a2a2a" stroke-width="1.3" fill="#d4d4d4"/>
<ellipse cx="469.7" cy="875.0" rx="34.4" ry="13.700000000000001" stroke="#2a2a2a" stroke-width="1.0" fill="#fff"/>
<path d="M435.3,874.7 A34.4,13.700000000000001 0 0 1 504.09999999999997,874.7" stroke="#333" stroke-width="2.2" fill="none" />
<path d="M436.8,876.2 A32.9,12.3 0 0 1 502.59999999999997,876.2" stroke="#666" stroke-width="0.8" fill="none" />
<ellipse cx="469.7" cy="877.2" rx="18.2" ry="8" stroke="#2a2a2a" stroke-width="1.1" fill="#fff"/>
<ellipse cx="469.7" cy="876.2" rx="15.2" ry="5.5" stroke="#666" stroke-width="0.8" fill="none"/>
<path d="M451.5,877.2 L451.5,880.7 M487.9,877.2 L487.9,880.7" stroke="#2a2a2a" stroke-width="0.9" fill="none" />
<path d="M485.9,869.7 q4,-2 6,1 l-1,8" stroke="#2a2a2a" stroke-width="0.9" fill="none" />
<path d="M432.3,894 L446,892.5 A7,12 0 0 1 446,916.5 L432.3,919 Z" stroke="#2a2a2a" stroke-width="1.1" fill="#3a3a3a" />
<path d="M435.0,893.8 A7,12.2 0 0 1 435.0,918.6" stroke="#999" stroke-width="0.6" fill="none" />
<path d="M437.6,893.5999999999999 A7,12.2 0 0 1 437.6,918.3000000000001" stroke="#999" stroke-width="0.6" fill="none" />
<path d="M440.2,893.4 A7,12.2 0 0 1 440.2,918.0" stroke="#999" stroke-width="0.6" fill="none" />
<path d="M442.8,893.1999999999999 A7,12.2 0 0 1 442.8,917.7" stroke="#999" stroke-width="0.6" fill="none" />
<ellipse cx="432.3" cy="906.5" rx="8" ry="12.5" stroke="#2a2a2a" stroke-width="1.3" fill="#fff" transform="rotate(-8 432.3 906.5)"/>
<ellipse cx="494.6" cy="907.3" rx="3.2" ry="4" stroke="none" stroke-width="0" fill="#222"/>
<ellipse cx="503.2" cy="912.1" rx="1.8" ry="1.8" stroke="none" stroke-width="0" fill="#222"/>
<ellipse cx="510" cy="915.6" rx="1.4" ry="1.4" stroke="none" stroke-width="0" fill="#333"/>
<ellipse cx="519.6" cy="919.8" rx="3.2" ry="4.6" stroke="#2a2a2a" stroke-width="1.0" fill="#fff"/>
<ellipse cx="530.1" cy="923.7" rx="5.5" ry="5.5" stroke="#2a2a2a" stroke-width="1.0" fill="#333"/>
<ellipse cx="530.1" cy="923.7" rx="2" ry="2" stroke="#2a2a2a" stroke-width="0.6" fill="#999"/>
<line x1="545" y1="929.5" x2="556" y2="934.5" stroke="#333" stroke-width="3.4"/>
<polyline points="502.3,909.3 547.4,909.3 547.4,930.4" stroke="#2a2a2a" stroke-width="0.9" fill="none"/>
<line x1="505" y1="913" x2="547.4" y2="913" stroke="#2a2a2a" stroke-width="0.9"/>
<line x1="539.7" y1="918" x2="557" y2="918" stroke="#2a2a2a" stroke-width="0.9"/>
<line x1="535.9" y1="924.6" x2="547.4" y2="930.4" stroke="#2a2a2a" stroke-width="0.9"/>
<line x1="506.1" y1="891" x2="557" y2="891" stroke="#444" stroke-width="1.1"/>
<text x="558" y="883.4" class="lb" text-anchor="start" transform="translate(558 883.4) scale(0.78 1) translate(-558 -883.4)">3c</text>
<text x="559.8" y="908.3" class="lb" text-anchor="start" transform="translate(559.8 908.3) scale(0.78 1) translate(-559.8 -908.3)">2</text>
<text x="559.8" y="934.2" class="lb" text-anchor="start" transform="translate(559.8 934.2) scale(0.78 1) translate(-559.8 -934.2)">1</text>
<line x1="522.4" y1="943.8" x2="557" y2="943.8" stroke="#444" stroke-width="1.1"/>
<line x1="469.7" y1="860" x2="469.7" y2="955" stroke="#2a2a2a" stroke-width="0.8"/>
</svg>
<div id="legend"></div>
<div id="items">
<div class="li" style="left:603.1px;top:83.1px">1 Base frame</div>
<div class="li" style="left:603.1px;top:107.3px">2 By–pass Va<b>l</b>ve</div>
<div class="li" style="left:593.3px;top:131.6px">3a Oval type in<b>l</b>et/out<b>l</b>et section</div>
<div class="li" style="left:593.3px;top:155.8px">3b F<b>l</b>ange type in<b>l</b>et/out<b>l</b>et section</div>
<div class="li" style="left:594.2px;top:180.1px">3c Thread type in<b>l</b>et/out<b>l</b>et section</div>
<div class="li" style="left:593.3px;top:204.3px">4a Gasket</div>
<div class="li" style="left:593.3px;top:228.5px">4b Snap ring</div>
<div class="li" style="left:593.3px;top:252.8px">5a Ova<b>l</b> f<b>l</b>ange</div>
<div class="li" style="left:593.3px;top:277.0px">5b F<b>l</b>ange</div>
<div class="li" style="left:593.3px;top:301.3px">6a Bo<b>l</b>t</div>
<div class="li" style="left:603.1px;top:325.5px">7 Taut band</div>
<div class="li" style="left:603.1px;top:349.7px">8 <b>I</b>nducer</div>
<div class="li" style="left:603.1px;top:374.0px">9 Lock nut</div>
<div class="li" style="left:593.3px;top:398.2px">10 Gasket</div>
<div class="li" style="left:593.3px;top:422.5px">11 G<b>l</b>and</div>
<div class="li" style="left:593.3px;top:446.7px">12 <b>I</b>mpe<b>ll</b>er</div>
<div class="li" style="left:593.3px;top:470.9px">13 Short bearing spacing pipe</div>
<div class="li" style="left:593.3px;top:495.2px">14 Bearing</div>
<div class="li" style="left:593.3px;top:519.4px">15 Long bearing spacing pipe</div>
<div class="li" style="left:593.3px;top:543.7px">16 Bearing diffuser</div>
<div class="li" style="left:593.3px;top:567.9px">17 <b>I</b>mpe<b>ll</b>er spacing pipe</div>
<div class="li" style="left:593.3px;top:592.1px">18 Diffuser</div>
<div class="li" style="left:593.3px;top:616.4px">19 Top diffuser</div>
<div class="li" style="left:593.3px;top:640.6px">20 Shaft</div>
<div class="li" style="left:593.3px;top:664.9px">21 Pin</div>
<div class="li" style="left:593.3px;top:689.1px">22 O–ring</div>
<div class="li" style="left:593.3px;top:713.3px">23 Gasket</div>
<div class="li" style="left:593.3px;top:737.6px">24 Pump head</div>
<div class="li" style="left:593.3px;top:761.8px">25 Air vent valve</div>
<div class="li" style="left:593.3px;top:786.1px">26 Mechanica<b>l</b> sea<b>l</b></div>
<div class="li" style="left:593.3px;top:810.3px">27 Bracket</div>
<div class="li" style="left:593.3px;top:834.5px">28 Out cy<b>l</b>inder</div>
<div class="li" style="left:593.3px;top:858.8px">29 Stay bo<b>l</b>t</div>
<div class="li" style="left:593.3px;top:883.0px">30 Coup<b>l</b>ing guard</div>
<div class="li" style="left:585.0px;top:907.3px">30a Coup<b>l</b>ing guard (No gap)</div>
<div class="li" style="left:593.3px;top:931.5px">31 Coup<b>l</b>ing</div>
<div class="li" style="left:593.3px;top:955.7px">32 Motor</div>
</div>
</body></html>
